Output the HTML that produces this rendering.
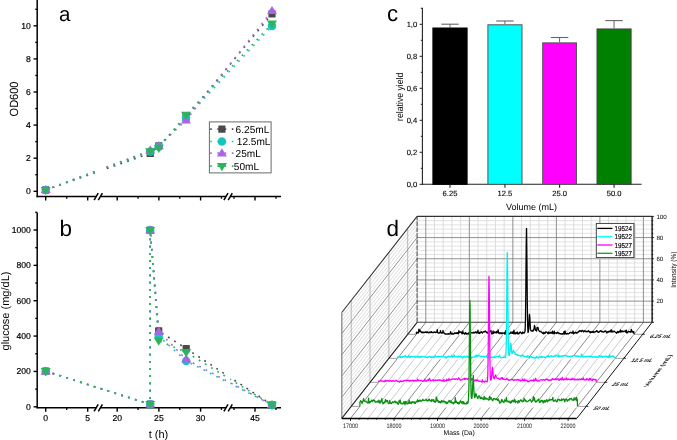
<!DOCTYPE html>
<html><head><meta charset="utf-8"><style>
html,body{margin:0;padding:0;background:#fff;}
svg{display:block;will-change:transform;}
text{font-family:"Liberation Sans", sans-serif;text-rendering:geometricPrecision;}
</style></head><body>
<svg width="677" height="440" viewBox="0 0 677 440">
<rect width="677" height="440" fill="#fff"/>
<defs><clipPath id="brka"><rect x="30" y="0" width="65.5" height="440"/><rect x="102.3" y="0" width="200" height="440"/></clipPath><clipPath id="brkb"><rect x="30" y="0" width="196" height="440"/><rect x="230.2" y="0" width="60" height="440"/></clipPath></defs>
<line x1="37.2" y1="0" x2="37.2" y2="197.2" stroke="#000" stroke-width="1.5" />
<line x1="33.6" y1="191.3" x2="37.2" y2="191.3" stroke="#000" stroke-width="1.4" />
<text x="30.9" y="194.2" font-size="8.6" text-anchor="end" fill="#000" stroke="#000" stroke-width="0.18">0</text>
<line x1="33.6" y1="158.2" x2="37.2" y2="158.2" stroke="#000" stroke-width="1.4" />
<text x="30.9" y="161.1" font-size="8.6" text-anchor="end" fill="#000" stroke="#000" stroke-width="0.18">2</text>
<line x1="33.6" y1="125.1" x2="37.2" y2="125.1" stroke="#000" stroke-width="1.4" />
<text x="30.9" y="128" font-size="8.6" text-anchor="end" fill="#000" stroke="#000" stroke-width="0.18">4</text>
<line x1="33.6" y1="92" x2="37.2" y2="92" stroke="#000" stroke-width="1.4" />
<text x="30.9" y="94.9" font-size="8.6" text-anchor="end" fill="#000" stroke="#000" stroke-width="0.18">6</text>
<line x1="33.6" y1="58.9" x2="37.2" y2="58.9" stroke="#000" stroke-width="1.4" />
<text x="30.9" y="61.8" font-size="8.6" text-anchor="end" fill="#000" stroke="#000" stroke-width="0.18">8</text>
<line x1="33.6" y1="25.8" x2="37.2" y2="25.8" stroke="#000" stroke-width="1.4" />
<text x="30.9" y="28.7" font-size="8.6" text-anchor="end" fill="#000" stroke="#000" stroke-width="0.18">10</text>
<line x1="35.2" y1="174.75" x2="37.2" y2="174.75" stroke="#000" stroke-width="1.3" />
<line x1="35.2" y1="141.65" x2="37.2" y2="141.65" stroke="#000" stroke-width="1.3" />
<line x1="35.2" y1="108.55" x2="37.2" y2="108.55" stroke="#000" stroke-width="1.3" />
<line x1="35.2" y1="75.45" x2="37.2" y2="75.45" stroke="#000" stroke-width="1.3" />
<line x1="35.2" y1="42.35" x2="37.2" y2="42.35" stroke="#000" stroke-width="1.3" />
<line x1="35.2" y1="9.25" x2="37.2" y2="9.25" stroke="#000" stroke-width="1.3" />
<line x1="36.5" y1="196.5" x2="96.2" y2="196.5" stroke="#000" stroke-width="1.5" />
<line x1="100.4" y1="196.5" x2="226" y2="196.5" stroke="#000" stroke-width="1.5" />
<line x1="230.2" y1="196.5" x2="281" y2="196.5" stroke="#000" stroke-width="1.5" />
<line x1="94.1" y1="200.2" x2="98.2" y2="193.2" stroke="#000" stroke-width="1.5" />
<line x1="98.3" y1="200.2" x2="102.4" y2="193.2" stroke="#000" stroke-width="1.5" />
<line x1="223.9" y1="200.2" x2="228" y2="193.2" stroke="#000" stroke-width="1.5" />
<line x1="228.2" y1="200.2" x2="232.3" y2="193.2" stroke="#000" stroke-width="1.5" />
<line x1="45.7" y1="196.5" x2="45.7" y2="200.5" stroke="#000" stroke-width="1.4" />
<line x1="87.7" y1="196.5" x2="87.7" y2="200.5" stroke="#000" stroke-width="1.4" />
<line x1="117.2" y1="196.5" x2="117.2" y2="200.5" stroke="#000" stroke-width="1.4" />
<line x1="158.9" y1="196.5" x2="158.9" y2="200.5" stroke="#000" stroke-width="1.4" />
<line x1="200.6" y1="196.5" x2="200.6" y2="200.5" stroke="#000" stroke-width="1.4" />
<line x1="255" y1="196.5" x2="255" y2="200.5" stroke="#000" stroke-width="1.4" />
<line x1="66.7" y1="196.5" x2="66.7" y2="198.7" stroke="#000" stroke-width="1.3" />
<line x1="138.05" y1="196.5" x2="138.05" y2="198.7" stroke="#000" stroke-width="1.3" />
<line x1="179.75" y1="196.5" x2="179.75" y2="198.7" stroke="#000" stroke-width="1.3" />
<line x1="221.45" y1="196.5" x2="221.45" y2="198.7" stroke="#000" stroke-width="1.3" />
<line x1="234" y1="196.5" x2="234" y2="198.7" stroke="#000" stroke-width="1.3" />
<line x1="276" y1="196.5" x2="276" y2="198.7" stroke="#000" stroke-width="1.3" />
<text transform="translate(17.6,99) scale(1.08,1) rotate(-90)" font-size="11" text-anchor="middle">OD600</text>
<text x="59.1" y="21.1" font-size="20.5" text-anchor="start" fill="#000" >a</text>
<polyline points="45.7,190 150.2,153.3 158.8,146 186,117.5 272,13.9" fill="none" stroke="#4a4a4a" stroke-width="1.6" stroke-dasharray="1.8 5.4" stroke-dashoffset="0.0" clip-path="url(#brka)"/>
<polyline points="45.7,190 150.2,151.5 158.8,146.5 186,117.8 272,26.1" fill="none" stroke="#12c6bd" stroke-width="1.6" stroke-dasharray="1.8 5.4" stroke-dashoffset="0.0" clip-path="url(#brka)"/>
<polyline points="45.7,189.9 150.2,150.5 158.8,146 186,120.3 272,10.9" fill="none" stroke="#a965e6" stroke-width="1.6" stroke-dasharray="1.8 5.4" stroke-dashoffset="0.0" clip-path="url(#brka)"/>
<polyline points="45.7,190.1 150.2,151.4 158.8,147.9 186,115 272,23.7" fill="none" stroke="#2db35e" stroke-width="1.6" stroke-dasharray="1.8 5.4" stroke-dashoffset="0.0" clip-path="url(#brka)"/>
<rect x="42.1" y="186.3" width="7.2" height="7.4" rx="0.6" fill="#4a4a4a"/>
<rect x="146.6" y="149.6" width="7.2" height="7.4" rx="0.6" fill="#4a4a4a"/>
<rect x="155.2" y="142.3" width="7.2" height="7.4" rx="0.6" fill="#4a4a4a"/>
<rect x="182.4" y="113.8" width="7.2" height="7.4" rx="0.6" fill="#4a4a4a"/>
<rect x="268.4" y="10.2" width="7.2" height="7.4" rx="0.6" fill="#4a4a4a"/>
<circle cx="45.7" cy="190" r="4.25" fill="#12c6bd"/>
<circle cx="150.2" cy="151.5" r="4.25" fill="#12c6bd"/>
<circle cx="158.8" cy="146.5" r="4.25" fill="#12c6bd"/>
<circle cx="186" cy="117.8" r="4.25" fill="#12c6bd"/>
<circle cx="272" cy="26.1" r="4.25" fill="#12c6bd"/>
<polygon points="45.7,184.9 50.7,193.1 40.7,193.1" fill="#a965e6" stroke="none" stroke-width="1" />
<polygon points="150.2,145.5 155.2,153.7 145.2,153.7" fill="#a965e6" stroke="none" stroke-width="1" />
<polygon points="158.8,141 163.8,149.2 153.8,149.2" fill="#a965e6" stroke="none" stroke-width="1" />
<polygon points="186,115.3 191,123.5 181,123.5" fill="#a965e6" stroke="none" stroke-width="1" />
<polygon points="272,5.9 277,14.1 267,14.1" fill="#a965e6" stroke="none" stroke-width="1" />
<polygon points="40.7,186.9 50.7,186.9 45.7,195.1" fill="#2db35e" stroke="none" stroke-width="1" />
<polygon points="145.2,148.2 155.2,148.2 150.2,156.4" fill="#2db35e" stroke="none" stroke-width="1" />
<polygon points="153.8,144.7 163.8,144.7 158.8,152.9" fill="#2db35e" stroke="none" stroke-width="1" />
<polygon points="181,111.8 191,111.8 186,120" fill="#2db35e" stroke="none" stroke-width="1" />
<polygon points="267,20.5 277,20.5 272,28.7" fill="#2db35e" stroke="none" stroke-width="1" />
<rect x="209.4" y="121.9" width="61.7" height="51" fill="#fff" stroke="#6a6a6a" stroke-width="1"/>
<line x1="210.2" y1="129.1" x2="233.4" y2="129.1" stroke="#4a4a4a" stroke-width="1.7" stroke-dasharray="1.6 5.6"/>
<rect x="218.3" y="125.4" width="7.2" height="7.4" rx="0.6" fill="#4a4a4a"/>
<text x="235.6" y="132.7" font-size="10.1" text-anchor="start" fill="#000" >6.25mL</text>
<line x1="210.2" y1="141.5" x2="233.4" y2="141.5" stroke="#12c6bd" stroke-width="1.7" stroke-dasharray="1.6 5.6"/>
<circle cx="221.9" cy="141.5" r="4.25" fill="#12c6bd"/>
<text x="236.8" y="145.1" font-size="10.1" text-anchor="start" fill="#000" >12.5mL</text>
<line x1="210.2" y1="153.2" x2="233.4" y2="153.2" stroke="#a965e6" stroke-width="1.7" stroke-dasharray="1.6 5.6"/>
<polygon points="221.9,148.2 226.9,156.4 216.9,156.4" fill="#a965e6" stroke="none" stroke-width="1" />
<text x="235.6" y="156.8" font-size="10.1" text-anchor="start" fill="#000" >25mL</text>
<line x1="210.2" y1="166.2" x2="233.4" y2="166.2" stroke="#2db35e" stroke-width="1.7" stroke-dasharray="1.6 5.6"/>
<polygon points="216.9,163 226.9,163 221.9,171.2" fill="#2db35e" stroke="none" stroke-width="1" />
<text x="233.8" y="169.8" font-size="10.1" text-anchor="start" fill="#000" >50mL</text>
<line x1="37.2" y1="212.5" x2="37.2" y2="408.3" stroke="#000" stroke-width="1.5" />
<line x1="33.6" y1="406.8" x2="37.2" y2="406.8" stroke="#000" stroke-width="1.4" />
<text x="30.9" y="409.7" font-size="8.6" text-anchor="end" fill="#000" stroke="#000" stroke-width="0.18">0</text>
<line x1="33.6" y1="371.44" x2="37.2" y2="371.44" stroke="#000" stroke-width="1.4" />
<text x="30.9" y="374.34" font-size="8.6" text-anchor="end" fill="#000" stroke="#000" stroke-width="0.18">200</text>
<line x1="33.6" y1="336.08" x2="37.2" y2="336.08" stroke="#000" stroke-width="1.4" />
<text x="30.9" y="338.98" font-size="8.6" text-anchor="end" fill="#000" stroke="#000" stroke-width="0.18">400</text>
<line x1="33.6" y1="300.72" x2="37.2" y2="300.72" stroke="#000" stroke-width="1.4" />
<text x="30.9" y="303.62" font-size="8.6" text-anchor="end" fill="#000" stroke="#000" stroke-width="0.18">600</text>
<line x1="33.6" y1="265.36" x2="37.2" y2="265.36" stroke="#000" stroke-width="1.4" />
<text x="30.9" y="268.26" font-size="8.6" text-anchor="end" fill="#000" stroke="#000" stroke-width="0.18">800</text>
<line x1="33.6" y1="230" x2="37.2" y2="230" stroke="#000" stroke-width="1.4" />
<text x="30.9" y="232.9" font-size="8.6" text-anchor="end" fill="#000" stroke="#000" stroke-width="0.18">1000</text>
<line x1="35.2" y1="389.12" x2="37.2" y2="389.12" stroke="#000" stroke-width="1.3" />
<line x1="35.2" y1="353.76" x2="37.2" y2="353.76" stroke="#000" stroke-width="1.3" />
<line x1="35.2" y1="318.4" x2="37.2" y2="318.4" stroke="#000" stroke-width="1.3" />
<line x1="35.2" y1="283.04" x2="37.2" y2="283.04" stroke="#000" stroke-width="1.3" />
<line x1="35.2" y1="247.68" x2="37.2" y2="247.68" stroke="#000" stroke-width="1.3" />
<line x1="35.2" y1="212.32" x2="37.2" y2="212.32" stroke="#000" stroke-width="1.3" />
<line x1="36.5" y1="407.7" x2="96.2" y2="407.7" stroke="#000" stroke-width="1.5" />
<line x1="100.4" y1="407.7" x2="226" y2="407.7" stroke="#000" stroke-width="1.5" />
<line x1="230.2" y1="407.7" x2="281" y2="407.7" stroke="#000" stroke-width="1.5" />
<line x1="94.1" y1="411.4" x2="98.2" y2="404.4" stroke="#000" stroke-width="1.5" />
<line x1="98.3" y1="411.4" x2="102.4" y2="404.4" stroke="#000" stroke-width="1.5" />
<line x1="223.9" y1="411.4" x2="228" y2="404.4" stroke="#000" stroke-width="1.5" />
<line x1="228.2" y1="411.4" x2="232.3" y2="404.4" stroke="#000" stroke-width="1.5" />
<line x1="45.7" y1="407.7" x2="45.7" y2="411.7" stroke="#000" stroke-width="1.4" />
<text x="45.7" y="421.2" font-size="8.6" text-anchor="middle" fill="#000" stroke="#000" stroke-width="0.18">0</text>
<line x1="87.7" y1="407.7" x2="87.7" y2="411.7" stroke="#000" stroke-width="1.4" />
<text x="87.7" y="421.2" font-size="8.6" text-anchor="middle" fill="#000" stroke="#000" stroke-width="0.18">5</text>
<line x1="117.2" y1="407.7" x2="117.2" y2="411.7" stroke="#000" stroke-width="1.4" />
<text x="117.2" y="421.2" font-size="8.6" text-anchor="middle" fill="#000" stroke="#000" stroke-width="0.18">20</text>
<line x1="158.9" y1="407.7" x2="158.9" y2="411.7" stroke="#000" stroke-width="1.4" />
<text x="158.9" y="421.2" font-size="8.6" text-anchor="middle" fill="#000" stroke="#000" stroke-width="0.18">25</text>
<line x1="200.6" y1="407.7" x2="200.6" y2="411.7" stroke="#000" stroke-width="1.4" />
<text x="200.6" y="421.2" font-size="8.6" text-anchor="middle" fill="#000" stroke="#000" stroke-width="0.18">30</text>
<line x1="255" y1="407.7" x2="255" y2="411.7" stroke="#000" stroke-width="1.4" />
<text x="255" y="421.2" font-size="8.6" text-anchor="middle" fill="#000" stroke="#000" stroke-width="0.18">45</text>
<line x1="66.7" y1="407.7" x2="66.7" y2="409.9" stroke="#000" stroke-width="1.3" />
<line x1="138.05" y1="407.7" x2="138.05" y2="409.9" stroke="#000" stroke-width="1.3" />
<line x1="179.75" y1="407.7" x2="179.75" y2="409.9" stroke="#000" stroke-width="1.3" />
<line x1="221.45" y1="407.7" x2="221.45" y2="409.9" stroke="#000" stroke-width="1.3" />
<line x1="234" y1="407.7" x2="234" y2="409.9" stroke="#000" stroke-width="1.3" />
<line x1="276" y1="407.7" x2="276" y2="409.9" stroke="#000" stroke-width="1.3" />
<text transform="translate(8.7,311) rotate(-90)" font-size="11" text-anchor="middle">glucose (mg/dL)</text>
<text x="158.5" y="437.8" font-size="11" text-anchor="middle" fill="#000" >t (h)</text>
<text x="59.4" y="235.8" font-size="22.5" text-anchor="start" fill="#000" >b</text>
<polyline points="45.7,371.2 150.2,404.3 150.2,230.2 158.7,331 186.2,348.6 272,404.9" fill="none" stroke="#4a4a4a" stroke-width="1.6" stroke-dasharray="1.8 5.4" stroke-dashoffset="0.0" clip-path="url(#brkb)"/>
<polyline points="45.7,371.2 150.2,404.3 150.2,230.2 158.7,336 186.2,361 272,404.9" fill="none" stroke="#12c6bd" stroke-width="1.6" stroke-dasharray="1.8 5.4" stroke-dashoffset="0.0" clip-path="url(#brkb)"/>
<polyline points="45.7,371.2 150.2,404.3 150.2,230.2 158.7,331.5 186.2,359.3 272,404.9" fill="none" stroke="#a965e6" stroke-width="1.6" stroke-dasharray="1.8 5.4" stroke-dashoffset="0.0" clip-path="url(#brkb)"/>
<polyline points="45.7,371.2 150.2,404.3 150.2,230.2 158.7,340.7 186.2,352.3 272,404.9" fill="none" stroke="#2db35e" stroke-width="1.6" stroke-dasharray="1.8 5.4" stroke-dashoffset="0.0" clip-path="url(#brkb)"/>
<rect x="42.1" y="367.5" width="7.2" height="7.4" rx="0.6" fill="#4a4a4a"/>
<rect x="146.6" y="400.6" width="7.2" height="7.4" rx="0.6" fill="#4a4a4a"/>
<rect x="146.6" y="226.5" width="7.2" height="7.4" rx="0.6" fill="#4a4a4a"/>
<rect x="155.1" y="327.3" width="7.2" height="7.4" rx="0.6" fill="#4a4a4a"/>
<rect x="182.6" y="344.9" width="7.2" height="7.4" rx="0.6" fill="#4a4a4a"/>
<rect x="268.4" y="401.2" width="7.2" height="7.4" rx="0.6" fill="#4a4a4a"/>
<circle cx="45.7" cy="371.2" r="4.25" fill="#12c6bd"/>
<circle cx="150.2" cy="404.3" r="4.25" fill="#12c6bd"/>
<circle cx="150.2" cy="230.2" r="4.25" fill="#12c6bd"/>
<circle cx="158.7" cy="336" r="4.25" fill="#12c6bd"/>
<circle cx="186.2" cy="361" r="4.25" fill="#12c6bd"/>
<circle cx="272" cy="404.9" r="4.25" fill="#12c6bd"/>
<polygon points="45.7,366.2 50.7,374.4 40.7,374.4" fill="#a965e6" stroke="none" stroke-width="1" />
<polygon points="150.2,399.3 155.2,407.5 145.2,407.5" fill="#a965e6" stroke="none" stroke-width="1" />
<polygon points="150.2,225.2 155.2,233.4 145.2,233.4" fill="#a965e6" stroke="none" stroke-width="1" />
<polygon points="158.7,326.5 163.7,334.7 153.7,334.7" fill="#a965e6" stroke="none" stroke-width="1" />
<polygon points="186.2,354.3 191.2,362.5 181.2,362.5" fill="#a965e6" stroke="none" stroke-width="1" />
<polygon points="272,399.9 277,408.1 267,408.1" fill="#a965e6" stroke="none" stroke-width="1" />
<polygon points="40.7,368 50.7,368 45.7,376.2" fill="#2db35e" stroke="none" stroke-width="1" />
<polygon points="145.2,401.1 155.2,401.1 150.2,409.3" fill="#2db35e" stroke="none" stroke-width="1" />
<polygon points="145.2,227 155.2,227 150.2,235.2" fill="#2db35e" stroke="none" stroke-width="1" />
<polygon points="153.7,337.5 163.7,337.5 158.7,345.7" fill="#2db35e" stroke="none" stroke-width="1" />
<polygon points="181.2,349.1 191.2,349.1 186.2,357.3" fill="#2db35e" stroke="none" stroke-width="1" />
<polygon points="267,401.7 277,401.7 272,409.9" fill="#2db35e" stroke="none" stroke-width="1" />
<line x1="422.4" y1="7.8" x2="422.4" y2="184.8" stroke="#222" stroke-width="1.1" />
<line x1="421.9" y1="184.3" x2="641.6" y2="184.3" stroke="#222" stroke-width="1.1" />
<line x1="419.6" y1="184.3" x2="422.4" y2="184.3" stroke="#222" stroke-width="1" />
<text x="417.2" y="187.02" font-size="7.6" text-anchor="end" fill="#000" stroke="#000" stroke-width="0.12">0,0</text>
<line x1="419.6" y1="152.3" x2="422.4" y2="152.3" stroke="#222" stroke-width="1" />
<text x="417.2" y="155.02" font-size="7.6" text-anchor="end" fill="#000" stroke="#000" stroke-width="0.12">0,2</text>
<line x1="419.6" y1="120.3" x2="422.4" y2="120.3" stroke="#222" stroke-width="1" />
<text x="417.2" y="123.02" font-size="7.6" text-anchor="end" fill="#000" stroke="#000" stroke-width="0.12">0,4</text>
<line x1="419.6" y1="88.3" x2="422.4" y2="88.3" stroke="#222" stroke-width="1" />
<text x="417.2" y="91.02" font-size="7.6" text-anchor="end" fill="#000" stroke="#000" stroke-width="0.12">0,6</text>
<line x1="419.6" y1="56.3" x2="422.4" y2="56.3" stroke="#222" stroke-width="1" />
<text x="417.2" y="59.02" font-size="7.6" text-anchor="end" fill="#000" stroke="#000" stroke-width="0.12">0,8</text>
<line x1="419.6" y1="24.3" x2="422.4" y2="24.3" stroke="#222" stroke-width="1" />
<text x="417.2" y="27.02" font-size="7.6" text-anchor="end" fill="#000" stroke="#000" stroke-width="0.12">1,0</text>
<line x1="420.8" y1="168.3" x2="422.4" y2="168.3" stroke="#222" stroke-width="1" />
<line x1="420.8" y1="136.3" x2="422.4" y2="136.3" stroke="#222" stroke-width="1" />
<line x1="420.8" y1="104.3" x2="422.4" y2="104.3" stroke="#222" stroke-width="1" />
<line x1="420.8" y1="72.3" x2="422.4" y2="72.3" stroke="#222" stroke-width="1" />
<line x1="420.8" y1="40.3" x2="422.4" y2="40.3" stroke="#222" stroke-width="1" />
<line x1="420.8" y1="8.3" x2="422.4" y2="8.3" stroke="#222" stroke-width="1" />
<line x1="450" y1="24.2" x2="450" y2="27.5" stroke="#666" stroke-width="1" />
<line x1="441.3" y1="24.2" x2="458.7" y2="24.2" stroke="#666" stroke-width="1.1" />
<rect x="432.9" y="28" width="34.2" height="156.3" fill="#000" stroke="#000" stroke-width="1"/>
<line x1="450" y1="184.3" x2="450" y2="187.8" stroke="#222" stroke-width="1.1" />
<text x="450" y="196.12" font-size="7.6" text-anchor="middle" fill="#000" stroke="#000" stroke-width="0.12">6.25</text>
<line x1="504.95" y1="21" x2="504.95" y2="24.3" stroke="#666" stroke-width="1" />
<line x1="496.25" y1="21" x2="513.65" y2="21" stroke="#666" stroke-width="1.1" />
<rect x="487.9" y="24.8" width="34.1" height="159.5" fill="#00ffff" stroke="#555" stroke-width="1"/>
<line x1="504.95" y1="184.3" x2="504.95" y2="187.8" stroke="#222" stroke-width="1.1" />
<text x="504.95" y="196.12" font-size="7.6" text-anchor="middle" fill="#000" stroke="#000" stroke-width="0.12">12.5</text>
<line x1="559.6" y1="37.5" x2="559.6" y2="42.38" stroke="#666" stroke-width="1" />
<line x1="550.9" y1="37.5" x2="568.3" y2="37.5" stroke="#666" stroke-width="1.1" />
<rect x="542.7" y="42.88" width="33.8" height="141.42" fill="#ff00ff" stroke="#555" stroke-width="1"/>
<line x1="559.6" y1="184.3" x2="559.6" y2="187.8" stroke="#222" stroke-width="1.1" />
<text x="559.6" y="196.12" font-size="7.6" text-anchor="middle" fill="#000" stroke="#000" stroke-width="0.12">25.0</text>
<line x1="614.05" y1="20.6" x2="614.05" y2="28.46" stroke="#666" stroke-width="1" />
<line x1="605.35" y1="20.6" x2="622.75" y2="20.6" stroke="#666" stroke-width="1.1" />
<rect x="597" y="28.96" width="34.1" height="155.34" fill="#008000" stroke="#444" stroke-width="1"/>
<line x1="614.05" y1="184.3" x2="614.05" y2="187.8" stroke="#222" stroke-width="1.1" />
<text x="614.05" y="196.12" font-size="7.6" text-anchor="middle" fill="#000" stroke="#000" stroke-width="0.12">50.0</text>
<text x="531.5" y="210.2" font-size="9" text-anchor="middle" fill="#000" >Volume (mL)</text>
<text transform="translate(403.4,96.8) scale(1.12,1) rotate(-90)" font-size="8.7" text-anchor="middle" fill="#000">relative yield</text>
<text x="386.9" y="21.4" font-size="22.3" text-anchor="start" fill="#000" >c</text>
<line x1="417.1" y1="318.06" x2="652.1" y2="318.06" stroke="#e0e0e0" stroke-width="0.9" />
<line x1="417.1" y1="313.83" x2="652.1" y2="313.83" stroke="#e0e0e0" stroke-width="0.9" />
<line x1="417.1" y1="309.59" x2="652.1" y2="309.59" stroke="#e0e0e0" stroke-width="0.9" />
<line x1="417.1" y1="305.36" x2="652.1" y2="305.36" stroke="#e0e0e0" stroke-width="0.9" />
<line x1="417.1" y1="296.88" x2="652.1" y2="296.88" stroke="#e0e0e0" stroke-width="0.9" />
<line x1="417.1" y1="292.65" x2="652.1" y2="292.65" stroke="#e0e0e0" stroke-width="0.9" />
<line x1="417.1" y1="288.41" x2="652.1" y2="288.41" stroke="#e0e0e0" stroke-width="0.9" />
<line x1="417.1" y1="284.18" x2="652.1" y2="284.18" stroke="#e0e0e0" stroke-width="0.9" />
<line x1="417.1" y1="275.7" x2="652.1" y2="275.7" stroke="#e0e0e0" stroke-width="0.9" />
<line x1="417.1" y1="271.47" x2="652.1" y2="271.47" stroke="#e0e0e0" stroke-width="0.9" />
<line x1="417.1" y1="267.23" x2="652.1" y2="267.23" stroke="#e0e0e0" stroke-width="0.9" />
<line x1="417.1" y1="263" x2="652.1" y2="263" stroke="#e0e0e0" stroke-width="0.9" />
<line x1="417.1" y1="254.52" x2="652.1" y2="254.52" stroke="#e0e0e0" stroke-width="0.9" />
<line x1="417.1" y1="250.29" x2="652.1" y2="250.29" stroke="#e0e0e0" stroke-width="0.9" />
<line x1="417.1" y1="246.05" x2="652.1" y2="246.05" stroke="#e0e0e0" stroke-width="0.9" />
<line x1="417.1" y1="241.82" x2="652.1" y2="241.82" stroke="#e0e0e0" stroke-width="0.9" />
<line x1="417.1" y1="233.34" x2="652.1" y2="233.34" stroke="#e0e0e0" stroke-width="0.9" />
<line x1="417.1" y1="229.11" x2="652.1" y2="229.11" stroke="#e0e0e0" stroke-width="0.9" />
<line x1="417.1" y1="224.87" x2="652.1" y2="224.87" stroke="#e0e0e0" stroke-width="0.9" />
<line x1="417.1" y1="220.64" x2="652.1" y2="220.64" stroke="#e0e0e0" stroke-width="0.9" />
<line x1="434.5" y1="216.4" x2="434.5" y2="322.3" stroke="#d9d9d9" stroke-width="0.9" />
<line x1="443.21" y1="216.4" x2="443.21" y2="322.3" stroke="#d9d9d9" stroke-width="0.9" />
<line x1="451.91" y1="216.4" x2="451.91" y2="322.3" stroke="#d9d9d9" stroke-width="0.9" />
<line x1="460.62" y1="216.4" x2="460.62" y2="322.3" stroke="#d9d9d9" stroke-width="0.9" />
<line x1="478.02" y1="216.4" x2="478.02" y2="322.3" stroke="#d9d9d9" stroke-width="0.9" />
<line x1="486.73" y1="216.4" x2="486.73" y2="322.3" stroke="#d9d9d9" stroke-width="0.9" />
<line x1="495.43" y1="216.4" x2="495.43" y2="322.3" stroke="#d9d9d9" stroke-width="0.9" />
<line x1="504.14" y1="216.4" x2="504.14" y2="322.3" stroke="#d9d9d9" stroke-width="0.9" />
<line x1="521.54" y1="216.4" x2="521.54" y2="322.3" stroke="#d9d9d9" stroke-width="0.9" />
<line x1="530.25" y1="216.4" x2="530.25" y2="322.3" stroke="#d9d9d9" stroke-width="0.9" />
<line x1="538.95" y1="216.4" x2="538.95" y2="322.3" stroke="#d9d9d9" stroke-width="0.9" />
<line x1="547.66" y1="216.4" x2="547.66" y2="322.3" stroke="#d9d9d9" stroke-width="0.9" />
<line x1="565.06" y1="216.4" x2="565.06" y2="322.3" stroke="#d9d9d9" stroke-width="0.9" />
<line x1="573.77" y1="216.4" x2="573.77" y2="322.3" stroke="#d9d9d9" stroke-width="0.9" />
<line x1="582.47" y1="216.4" x2="582.47" y2="322.3" stroke="#d9d9d9" stroke-width="0.9" />
<line x1="591.18" y1="216.4" x2="591.18" y2="322.3" stroke="#d9d9d9" stroke-width="0.9" />
<line x1="608.58" y1="216.4" x2="608.58" y2="322.3" stroke="#d9d9d9" stroke-width="0.9" />
<line x1="617.29" y1="216.4" x2="617.29" y2="322.3" stroke="#d9d9d9" stroke-width="0.9" />
<line x1="625.99" y1="216.4" x2="625.99" y2="322.3" stroke="#d9d9d9" stroke-width="0.9" />
<line x1="634.7" y1="216.4" x2="634.7" y2="322.3" stroke="#d9d9d9" stroke-width="0.9" />
<line x1="417.1" y1="301.12" x2="652.1" y2="301.12" stroke="#858585" stroke-width="0.9" />
<line x1="417.1" y1="279.94" x2="652.1" y2="279.94" stroke="#858585" stroke-width="0.9" />
<line x1="417.1" y1="258.76" x2="652.1" y2="258.76" stroke="#858585" stroke-width="0.9" />
<line x1="417.1" y1="237.58" x2="652.1" y2="237.58" stroke="#858585" stroke-width="0.9" />
<line x1="425.8" y1="216.4" x2="425.8" y2="322.3" stroke="#858585" stroke-width="0.9" />
<line x1="469.32" y1="216.4" x2="469.32" y2="322.3" stroke="#858585" stroke-width="0.9" />
<line x1="512.84" y1="216.4" x2="512.84" y2="322.3" stroke="#858585" stroke-width="0.9" />
<line x1="556.36" y1="216.4" x2="556.36" y2="322.3" stroke="#858585" stroke-width="0.9" />
<line x1="599.88" y1="216.4" x2="599.88" y2="322.3" stroke="#858585" stroke-width="0.9" />
<line x1="643.4" y1="216.4" x2="643.4" y2="322.3" stroke="#858585" stroke-width="0.9" />
<line x1="341.8" y1="414.16" x2="417.1" y2="318.06" stroke="#d9d9d9" stroke-width="0.9" />
<line x1="341.8" y1="409.93" x2="417.1" y2="313.83" stroke="#d9d9d9" stroke-width="0.9" />
<line x1="341.8" y1="405.69" x2="417.1" y2="309.59" stroke="#d9d9d9" stroke-width="0.9" />
<line x1="341.8" y1="401.46" x2="417.1" y2="305.36" stroke="#d9d9d9" stroke-width="0.9" />
<line x1="341.8" y1="392.98" x2="417.1" y2="296.88" stroke="#d9d9d9" stroke-width="0.9" />
<line x1="341.8" y1="388.75" x2="417.1" y2="292.65" stroke="#d9d9d9" stroke-width="0.9" />
<line x1="341.8" y1="384.51" x2="417.1" y2="288.41" stroke="#d9d9d9" stroke-width="0.9" />
<line x1="341.8" y1="380.28" x2="417.1" y2="284.18" stroke="#d9d9d9" stroke-width="0.9" />
<line x1="341.8" y1="371.8" x2="417.1" y2="275.7" stroke="#d9d9d9" stroke-width="0.9" />
<line x1="341.8" y1="367.57" x2="417.1" y2="271.47" stroke="#d9d9d9" stroke-width="0.9" />
<line x1="341.8" y1="363.33" x2="417.1" y2="267.23" stroke="#d9d9d9" stroke-width="0.9" />
<line x1="341.8" y1="359.1" x2="417.1" y2="263" stroke="#d9d9d9" stroke-width="0.9" />
<line x1="341.8" y1="350.62" x2="417.1" y2="254.52" stroke="#d9d9d9" stroke-width="0.9" />
<line x1="341.8" y1="346.39" x2="417.1" y2="250.29" stroke="#d9d9d9" stroke-width="0.9" />
<line x1="341.8" y1="342.15" x2="417.1" y2="246.05" stroke="#d9d9d9" stroke-width="0.9" />
<line x1="341.8" y1="337.92" x2="417.1" y2="241.82" stroke="#d9d9d9" stroke-width="0.9" />
<line x1="341.8" y1="329.44" x2="417.1" y2="233.34" stroke="#d9d9d9" stroke-width="0.9" />
<line x1="341.8" y1="325.21" x2="417.1" y2="229.11" stroke="#d9d9d9" stroke-width="0.9" />
<line x1="341.8" y1="320.97" x2="417.1" y2="224.87" stroke="#d9d9d9" stroke-width="0.9" />
<line x1="341.8" y1="316.74" x2="417.1" y2="220.64" stroke="#d9d9d9" stroke-width="0.9" />
<line x1="351.21" y1="406.39" x2="351.21" y2="300.49" stroke="#b0b0b0" stroke-width="0.9" />
<line x1="370.03" y1="382.36" x2="370.03" y2="276.46" stroke="#b0b0b0" stroke-width="0.9" />
<line x1="388.86" y1="358.34" x2="388.86" y2="252.44" stroke="#b0b0b0" stroke-width="0.9" />
<line x1="407.68" y1="334.31" x2="407.68" y2="228.41" stroke="#b0b0b0" stroke-width="0.9" />
<line x1="341.8" y1="397.22" x2="417.1" y2="301.12" stroke="#858585" stroke-width="0.9" />
<line x1="341.8" y1="376.04" x2="417.1" y2="279.94" stroke="#858585" stroke-width="0.9" />
<line x1="341.8" y1="354.86" x2="417.1" y2="258.76" stroke="#858585" stroke-width="0.9" />
<line x1="341.8" y1="333.68" x2="417.1" y2="237.58" stroke="#858585" stroke-width="0.9" />
<line x1="359.2" y1="418.4" x2="434.5" y2="322.3" stroke="#c4c4c4" stroke-width="0.9" />
<line x1="367.91" y1="418.4" x2="443.21" y2="322.3" stroke="#c4c4c4" stroke-width="0.9" />
<line x1="376.61" y1="418.4" x2="451.91" y2="322.3" stroke="#c4c4c4" stroke-width="0.9" />
<line x1="385.32" y1="418.4" x2="460.62" y2="322.3" stroke="#c4c4c4" stroke-width="0.9" />
<line x1="402.72" y1="418.4" x2="478.02" y2="322.3" stroke="#c4c4c4" stroke-width="0.9" />
<line x1="411.43" y1="418.4" x2="486.73" y2="322.3" stroke="#c4c4c4" stroke-width="0.9" />
<line x1="420.13" y1="418.4" x2="495.43" y2="322.3" stroke="#c4c4c4" stroke-width="0.9" />
<line x1="428.84" y1="418.4" x2="504.14" y2="322.3" stroke="#c4c4c4" stroke-width="0.9" />
<line x1="446.24" y1="418.4" x2="521.54" y2="322.3" stroke="#c4c4c4" stroke-width="0.9" />
<line x1="454.95" y1="418.4" x2="530.25" y2="322.3" stroke="#c4c4c4" stroke-width="0.9" />
<line x1="463.65" y1="418.4" x2="538.95" y2="322.3" stroke="#c4c4c4" stroke-width="0.9" />
<line x1="472.36" y1="418.4" x2="547.66" y2="322.3" stroke="#c4c4c4" stroke-width="0.9" />
<line x1="489.76" y1="418.4" x2="565.06" y2="322.3" stroke="#c4c4c4" stroke-width="0.9" />
<line x1="498.47" y1="418.4" x2="573.77" y2="322.3" stroke="#c4c4c4" stroke-width="0.9" />
<line x1="507.17" y1="418.4" x2="582.47" y2="322.3" stroke="#c4c4c4" stroke-width="0.9" />
<line x1="515.88" y1="418.4" x2="591.18" y2="322.3" stroke="#c4c4c4" stroke-width="0.9" />
<line x1="533.28" y1="418.4" x2="608.58" y2="322.3" stroke="#c4c4c4" stroke-width="0.9" />
<line x1="541.99" y1="418.4" x2="617.29" y2="322.3" stroke="#c4c4c4" stroke-width="0.9" />
<line x1="550.69" y1="418.4" x2="625.99" y2="322.3" stroke="#c4c4c4" stroke-width="0.9" />
<line x1="559.4" y1="418.4" x2="634.7" y2="322.3" stroke="#c4c4c4" stroke-width="0.9" />
<line x1="351.21" y1="406.39" x2="586.22" y2="406.39" stroke="#9a9a9a" stroke-width="0.9" />
<line x1="370.03" y1="382.36" x2="605.04" y2="382.36" stroke="#9a9a9a" stroke-width="0.9" />
<line x1="388.86" y1="358.34" x2="623.87" y2="358.34" stroke="#9a9a9a" stroke-width="0.9" />
<line x1="407.68" y1="334.31" x2="642.69" y2="334.31" stroke="#9a9a9a" stroke-width="0.9" />
<line x1="350.5" y1="418.4" x2="425.8" y2="322.3" stroke="#7a7a7a" stroke-width="0.9" />
<line x1="394.02" y1="418.4" x2="469.32" y2="322.3" stroke="#7a7a7a" stroke-width="0.9" />
<line x1="437.54" y1="418.4" x2="512.84" y2="322.3" stroke="#7a7a7a" stroke-width="0.9" />
<line x1="481.06" y1="418.4" x2="556.36" y2="322.3" stroke="#7a7a7a" stroke-width="0.9" />
<line x1="524.58" y1="418.4" x2="599.88" y2="322.3" stroke="#7a7a7a" stroke-width="0.9" />
<line x1="568.1" y1="418.4" x2="643.4" y2="322.3" stroke="#7a7a7a" stroke-width="0.9" />
<line x1="417.1" y1="216.4" x2="652.1" y2="216.4" stroke="#333" stroke-width="1.1" />
<line x1="341.8" y1="312.5" x2="417.1" y2="216.4" stroke="#333" stroke-width="1.1" />
<line x1="341.8" y1="418.4" x2="341.8" y2="312.5" stroke="#888" stroke-width="1.3" />
<line x1="417.1" y1="322.3" x2="417.1" y2="216.4" stroke="#3a3a3a" stroke-width="1.0" stroke-dasharray="5 1"/>
<line x1="417.1" y1="322.3" x2="652.1" y2="322.3" stroke="#444" stroke-width="1.1" />
<line x1="341.8" y1="418.4" x2="417.1" y2="322.3" stroke="#222" stroke-width="1.1" />
<line x1="341.8" y1="418.5" x2="576.8" y2="418.5" stroke="#000" stroke-width="1.7" />
<line x1="576.8" y1="418.4" x2="652.1" y2="322.3" stroke="#111" stroke-width="1.0" />
<line x1="652.1" y1="322.3" x2="652.1" y2="216.4" stroke="#000" stroke-width="1.3" />
<line x1="350.5" y1="418.4" x2="350.5" y2="420.8" stroke="#000" stroke-width="0.9" />
<text x="350.5" y="428" font-size="6.4" text-anchor="middle" fill="#222" transform="translate(350.5,0) scale(0.85,1) translate(-350.5,0)" >17000</text>
<line x1="359.2" y1="418.4" x2="359.2" y2="419.8" stroke="#000" stroke-width="0.8" />
<line x1="367.91" y1="418.4" x2="367.91" y2="419.8" stroke="#000" stroke-width="0.8" />
<line x1="376.61" y1="418.4" x2="376.61" y2="419.8" stroke="#000" stroke-width="0.8" />
<line x1="385.32" y1="418.4" x2="385.32" y2="419.8" stroke="#000" stroke-width="0.8" />
<line x1="394.02" y1="418.4" x2="394.02" y2="420.8" stroke="#000" stroke-width="0.9" />
<text x="394.02" y="428" font-size="6.4" text-anchor="middle" fill="#222" transform="translate(394.02,0) scale(0.85,1) translate(-394.02,0)" >18000</text>
<line x1="402.72" y1="418.4" x2="402.72" y2="419.8" stroke="#000" stroke-width="0.8" />
<line x1="411.43" y1="418.4" x2="411.43" y2="419.8" stroke="#000" stroke-width="0.8" />
<line x1="420.13" y1="418.4" x2="420.13" y2="419.8" stroke="#000" stroke-width="0.8" />
<line x1="428.84" y1="418.4" x2="428.84" y2="419.8" stroke="#000" stroke-width="0.8" />
<line x1="437.54" y1="418.4" x2="437.54" y2="420.8" stroke="#000" stroke-width="0.9" />
<text x="437.54" y="428" font-size="6.4" text-anchor="middle" fill="#222" transform="translate(437.54,0) scale(0.85,1) translate(-437.54,0)" >19000</text>
<line x1="446.24" y1="418.4" x2="446.24" y2="419.8" stroke="#000" stroke-width="0.8" />
<line x1="454.95" y1="418.4" x2="454.95" y2="419.8" stroke="#000" stroke-width="0.8" />
<line x1="463.65" y1="418.4" x2="463.65" y2="419.8" stroke="#000" stroke-width="0.8" />
<line x1="472.36" y1="418.4" x2="472.36" y2="419.8" stroke="#000" stroke-width="0.8" />
<line x1="481.06" y1="418.4" x2="481.06" y2="420.8" stroke="#000" stroke-width="0.9" />
<text x="481.06" y="428" font-size="6.4" text-anchor="middle" fill="#222" transform="translate(481.06,0) scale(0.85,1) translate(-481.06,0)" >20000</text>
<line x1="489.76" y1="418.4" x2="489.76" y2="419.8" stroke="#000" stroke-width="0.8" />
<line x1="498.47" y1="418.4" x2="498.47" y2="419.8" stroke="#000" stroke-width="0.8" />
<line x1="507.17" y1="418.4" x2="507.17" y2="419.8" stroke="#000" stroke-width="0.8" />
<line x1="515.88" y1="418.4" x2="515.88" y2="419.8" stroke="#000" stroke-width="0.8" />
<line x1="524.58" y1="418.4" x2="524.58" y2="420.8" stroke="#000" stroke-width="0.9" />
<text x="524.58" y="428" font-size="6.4" text-anchor="middle" fill="#222" transform="translate(524.58,0) scale(0.85,1) translate(-524.58,0)" >21000</text>
<line x1="533.28" y1="418.4" x2="533.28" y2="419.8" stroke="#000" stroke-width="0.8" />
<line x1="541.99" y1="418.4" x2="541.99" y2="419.8" stroke="#000" stroke-width="0.8" />
<line x1="550.69" y1="418.4" x2="550.69" y2="419.8" stroke="#000" stroke-width="0.8" />
<line x1="559.4" y1="418.4" x2="559.4" y2="419.8" stroke="#000" stroke-width="0.8" />
<line x1="568.1" y1="418.4" x2="568.1" y2="420.8" stroke="#000" stroke-width="0.9" />
<text x="568.1" y="428" font-size="6.4" text-anchor="middle" fill="#222" transform="translate(568.1,0) scale(0.85,1) translate(-568.1,0)" >22000</text>
<text x="459.2" y="435.2" font-size="6.8" text-anchor="middle" fill="#000">Mass (Da)</text>
<line x1="652.1" y1="322.3" x2="653.9" y2="322.3" stroke="#000" stroke-width="0.9" />
<line x1="652.1" y1="318.06" x2="653.3" y2="318.06" stroke="#000" stroke-width="0.8" />
<line x1="652.1" y1="313.83" x2="653.3" y2="313.83" stroke="#000" stroke-width="0.8" />
<line x1="652.1" y1="309.59" x2="653.3" y2="309.59" stroke="#000" stroke-width="0.8" />
<line x1="652.1" y1="305.36" x2="653.3" y2="305.36" stroke="#000" stroke-width="0.8" />
<line x1="652.1" y1="301.12" x2="653.9" y2="301.12" stroke="#000" stroke-width="0.9" />
<text x="656.4" y="303.34" font-size="6.2" text-anchor="start" fill="#000" >20</text>
<line x1="652.1" y1="296.88" x2="653.3" y2="296.88" stroke="#000" stroke-width="0.8" />
<line x1="652.1" y1="292.65" x2="653.3" y2="292.65" stroke="#000" stroke-width="0.8" />
<line x1="652.1" y1="288.41" x2="653.3" y2="288.41" stroke="#000" stroke-width="0.8" />
<line x1="652.1" y1="284.18" x2="653.3" y2="284.18" stroke="#000" stroke-width="0.8" />
<line x1="652.1" y1="279.94" x2="653.9" y2="279.94" stroke="#000" stroke-width="0.9" />
<text x="656.4" y="282.16" font-size="6.2" text-anchor="start" fill="#000" >40</text>
<line x1="652.1" y1="275.7" x2="653.3" y2="275.7" stroke="#000" stroke-width="0.8" />
<line x1="652.1" y1="271.47" x2="653.3" y2="271.47" stroke="#000" stroke-width="0.8" />
<line x1="652.1" y1="267.23" x2="653.3" y2="267.23" stroke="#000" stroke-width="0.8" />
<line x1="652.1" y1="263" x2="653.3" y2="263" stroke="#000" stroke-width="0.8" />
<line x1="652.1" y1="258.76" x2="653.9" y2="258.76" stroke="#000" stroke-width="0.9" />
<text x="656.4" y="260.98" font-size="6.2" text-anchor="start" fill="#000" >60</text>
<line x1="652.1" y1="254.52" x2="653.3" y2="254.52" stroke="#000" stroke-width="0.8" />
<line x1="652.1" y1="250.29" x2="653.3" y2="250.29" stroke="#000" stroke-width="0.8" />
<line x1="652.1" y1="246.05" x2="653.3" y2="246.05" stroke="#000" stroke-width="0.8" />
<line x1="652.1" y1="241.82" x2="653.3" y2="241.82" stroke="#000" stroke-width="0.8" />
<line x1="652.1" y1="237.58" x2="653.9" y2="237.58" stroke="#000" stroke-width="0.9" />
<text x="656.4" y="239.8" font-size="6.2" text-anchor="start" fill="#000" >80</text>
<line x1="652.1" y1="233.34" x2="653.3" y2="233.34" stroke="#000" stroke-width="0.8" />
<line x1="652.1" y1="229.11" x2="653.3" y2="229.11" stroke="#000" stroke-width="0.8" />
<line x1="652.1" y1="224.87" x2="653.3" y2="224.87" stroke="#000" stroke-width="0.8" />
<line x1="652.1" y1="220.64" x2="653.3" y2="220.64" stroke="#000" stroke-width="0.8" />
<line x1="652.1" y1="216.4" x2="653.9" y2="216.4" stroke="#000" stroke-width="0.9" />
<text x="656.4" y="218.62" font-size="6.2" text-anchor="start" fill="#000" >100</text>
<text transform="translate(675.9,269.7) scale(1.12,1) rotate(-90)" font-size="6.5" text-anchor="middle" fill="#000">Intensity (%)</text>
<line x1="585.22" y1="406.39" x2="588.42" y2="406.39" stroke="#333" stroke-width="1" />
<text font-size="7" font-weight="bold" fill="#111" transform="matrix(0.82,0,-0.59,0.72,592.52,409.99)">50 mL</text>
<line x1="604.04" y1="382.36" x2="607.24" y2="382.36" stroke="#333" stroke-width="1" />
<text font-size="7" font-weight="bold" fill="#111" transform="matrix(0.82,0,-0.59,0.72,611.34,385.96)">25 mL</text>
<line x1="622.87" y1="358.34" x2="626.07" y2="358.34" stroke="#333" stroke-width="1" />
<text font-size="7" font-weight="bold" fill="#111" transform="matrix(0.82,0,-0.59,0.72,630.17,361.94)">12.5 mL</text>
<line x1="641.69" y1="334.31" x2="644.89" y2="334.31" stroke="#333" stroke-width="1" />
<text font-size="7" font-weight="bold" fill="#111" transform="matrix(0.82,0,-0.59,0.72,648.99,337.91)">6.25 mL</text>
<text transform="matrix(0.6,-0.77,0.85,0,647.6,387.0)" font-size="7" font-weight="bold" fill="#111">Volume (mL)</text>
<text x="386.5" y="236" font-size="22.5" text-anchor="start" fill="#000" >d</text>
<polygon points="416.39,335.31 416.39,332.55 416.75,332.15 417.11,332.71 417.47,332.47 417.83,332.87 418.19,333.15 418.55,332.01 418.91,329.05 419.27,331.14 419.63,331.69 419.99,330.06 420.35,331.6 420.71,331.32 421.07,331.58 421.43,332.5 421.79,332.48 422.15,332.75 422.51,332.46 422.87,332 423.23,332.74 423.59,332.62 423.95,332.34 424.31,332.09 424.67,332.58 425.03,332.19 425.39,332.28 425.75,331.88 426.11,332.17 426.47,332.22 426.83,332.69 427.19,331.85 427.55,332.3 427.91,332.26 428.27,332.28 428.63,332.87 428.99,332.95 429.35,332.36 429.71,331.98 430.07,332.16 430.43,332 430.79,332.59 431.15,331.72 431.51,331.71 431.87,332.64 432.23,332.6 432.59,332.31 432.95,332.54 433.31,332.46 433.67,332.57 434.03,332.03 434.39,331.83 434.75,332.37 435.11,332.46 435.47,332.38 435.83,332.58 436.19,332.41 436.55,332.24 436.91,331.44 437.27,329.73 437.63,332.42 437.99,332.75 438.35,333.19 438.71,333.2 439.07,332.85 439.43,332.84 439.79,332.34 440.15,332.83 440.51,330.54 440.87,332.54 441.23,332.72 441.59,333.1 441.95,333.23 442.31,332.53 442.67,332.87 443.03,330.5 443.39,332.94 443.75,332.96 444.11,333.09 444.47,333.21 444.83,333.64 445.19,334.1 445.55,334.05 445.91,333.96 446.27,334.1 446.63,334.1 446.99,334.1 447.35,333.97 447.71,334.1 448.07,334.1 448.43,333.58 448.79,334.1 449.15,334.1 449.51,334.1 449.87,333.75 450.23,333.44 450.59,331.61 450.95,333.74 451.31,333.49 451.67,334.1 452.03,333.06 452.39,334.1 452.75,334.04 453.11,333.98 453.47,334.1 453.83,333.9 454.19,333.89 454.55,332.8 454.91,333.45 455.27,333.46 455.63,333.13 455.99,332.73 456.35,333.52 456.71,333.14 457.07,332.72 457.43,333.47 457.79,333.03 458.15,332.39 458.51,333.83 458.87,330.56 459.23,332.68 459.59,332.03 459.95,332.42 460.31,331.86 460.67,332.25 461.03,332 461.39,332.28 461.75,333.12 462.11,333.84 462.47,333.41 462.83,331.11 463.19,333.02 463.55,333.37 463.91,333.47 464.27,333.89 464.63,334.1 464.99,333.3 465.35,332.57 465.71,333.11 466.07,333.85 466.43,334.1 466.79,333.24 467.15,333.78 467.51,333.71 467.87,333.75 468.23,333.98 468.59,334.1 468.95,332.52 469.31,332.93 469.67,333.45 470.03,332.4 470.39,332.23 470.75,332.29 471.11,332.67 471.47,332.77 471.83,332.73 472.19,333.06 472.55,332.79 472.91,332.59 473.27,332.27 473.63,333.04 473.99,332.71 474.35,332.74 474.71,332.87 475.07,332.01 475.43,331.88 475.79,332.62 476.15,331.98 476.51,332.98 476.87,332.17 477.23,332.35 477.59,332.86 477.95,330.23 478.31,333 478.67,332.72 479.03,333.21 479.39,332.73 479.75,333.48 480.11,332.31 480.47,332.43 480.83,332.21 481.19,331.68 481.55,332.09 481.91,332.79 482.27,333.13 482.63,332.31 482.99,332.05 483.35,332.13 483.71,331.57 484.07,331.65 484.43,331.89 484.79,331.6 485.15,331.05 485.51,331.74 485.87,331.36 486.23,331.93 486.59,332.36 486.95,332.85 487.31,333.07 487.67,332.27 488.03,333.12 488.39,332.43 488.75,332.49 489.11,332.17 489.47,331.98 489.83,331.43 490.19,331.34 490.55,331.49 490.91,330.35 491.27,332.46 491.63,333.51 491.99,334.02 492.35,333.54 492.71,333.15 493.07,330.99 493.43,333.39 493.79,333.19 494.15,332.76 494.51,331.9 494.87,332.11 495.23,332.28 495.59,332.43 495.95,332.98 496.31,331.4 496.67,332.93 497.03,332.65 497.39,332.24 497.75,332.37 498.11,329.89 498.47,332.25 498.83,333.16 499.19,333.54 499.55,332.89 499.91,332.74 500.27,333.11 500.63,332.84 500.99,333.68 501.35,332.82 501.71,333.31 502.07,333.74 502.43,332.96 502.79,332.98 503.15,332.92 503.51,333.13 503.87,333.26 504.23,333.46 504.59,332.64 504.95,334.1 505.31,332.43 505.67,330.58 506.03,333.96 506.39,332.3 506.75,332.81 507.11,332.55 507.47,332.48 507.83,333.87 508.19,333.54 508.55,333.83 508.91,334.1 509.27,333.62 509.63,333.48 509.99,333.54 510.35,333.24 510.71,332.07 511.07,332.01 511.43,332.74 511.79,333.08 512.15,333.38 512.51,333.36 512.87,331.68 513.23,332.89 513.59,333.71 513.95,330.26 514.31,332.73 514.67,332.92 515.03,334.1 515.39,333.59 515.75,332.71 516.11,333.16 516.47,332.89 516.83,333.57 517.19,331.91 517.55,333.41 517.91,333.96 518.27,333.41 518.63,333.76 518.99,333.78 519.35,332.42 519.71,332.77 520.07,332.22 520.43,332 520.79,332.75 521.15,332.69 521.51,333.5 521.87,333.79 522.23,333.61 522.59,332.21 522.95,332.52 523.31,332.76 523.67,333.07 524.03,333.22 524.39,332.52 524.75,332.11 525.11,330.76 525.47,320.13 525.83,290.39 526.19,247.01 526.5,228.41 526.55,228.9 526.91,258.13 527.27,300.67 527.63,325.05 527.99,332.5 528.35,331.83 528.71,328.8 529.07,320.39 529.43,314.52 529.5,314.97 529.79,317.57 530.15,324.31 530.51,329.38 530.87,330.61 531.23,330.81 531.59,331.04 531.95,330.86 532.31,331.17 532.67,331.03 533.03,330.13 533.39,330.89 533.75,329.86 534.11,328.31 534.47,325.47 534.6,326 534.83,326.85 535.19,328.56 535.55,330.22 535.91,330.49 536.27,330.58 536.63,330.99 536.99,327.55 537.35,327.49 537.7,327.41 537.71,327.44 538.07,327.7 538.43,329.62 538.79,330.36 539.15,330.72 539.51,331.31 539.87,331.66 540.23,331.69 540.59,331.41 540.95,331.55 541.31,332.16 541.67,332.34 542.03,332.69 542.39,332.71 542.75,333.47 543.11,333.41 543.47,333.72 543.83,332.24 544.19,333.03 544.55,332.97 544.91,333.56 545.27,332.66 545.63,331.99 545.99,332.06 546.35,332.01 546.71,332.11 547.07,332.38 547.43,333.02 547.79,333.58 548.15,333.89 548.51,332.23 548.87,333.06 549.23,332.74 549.59,333.14 549.95,333.31 550.31,332.86 550.67,332.27 551.03,332.39 551.39,333.18 551.75,332.81 552.11,333.18 552.47,331.04 552.83,333.37 553.19,333.75 553.55,333.18 553.91,332.55 554.27,331.19 554.63,333.65 554.99,332.93 555.35,332.96 555.71,332.9 556.07,332.73 556.43,333.42 556.79,333.49 557.15,332.91 557.51,332.28 557.87,332.77 558.23,332.75 558.59,332.89 558.95,333.69 559.31,333.59 559.67,333.35 560.03,333.78 560.39,333.55 560.75,333.7 561.11,334.1 561.47,334.1 561.83,334.1 562.19,333.63 562.55,334.1 562.91,334.02 563.27,333.57 563.63,333.39 563.99,331.71 564.35,334.1 564.71,333.97 565.07,330.79 565.43,333.4 565.79,333.81 566.15,334.1 566.51,333.49 566.87,334.03 567.23,333.35 567.59,333.4 567.95,333.77 568.31,333.63 568.67,333.86 569.03,333.43 569.39,333.12 569.75,332.87 570.11,332.47 570.47,332.35 570.83,332.35 571.19,332.66 571.55,332.57 571.91,333.26 572.27,333.03 572.63,333.14 572.99,331 573.35,332.91 573.71,333.93 574.07,333.33 574.43,332.94 574.79,332.75 575.15,332.66 575.51,332.19 575.87,332.94 576.23,332.42 576.59,333.18 576.95,332.87 577.31,332.41 577.67,332.84 578.03,332.41 578.39,331.44 578.75,331.67 579.11,331.54 579.47,330.84 579.83,330.62 580.19,331.04 580.55,330.84 580.91,330.98 581.27,331.55 581.63,331.54 581.99,330.42 582.35,330.63 582.71,330.52 583.07,330.96 583.43,331.75 583.79,331.85 584.15,331.43 584.51,331.26 584.87,330.59 585.23,331.1 585.59,331.21 585.95,331.72 586.31,331.28 586.67,331.32 587.03,331.85 587.39,331.34 587.75,331.5 588.11,330.97 588.47,330.6 588.83,330.91 589.19,331.7 589.55,332.09 589.91,332.32 590.27,332.88 590.63,331.59 590.99,331.73 591.35,332.34 591.71,331.91 592.07,332.38 592.43,332.26 592.79,331.4 593.15,331.33 593.51,332.18 593.87,332.5 594.23,332.03 594.59,331.86 594.95,331.98 595.31,331.84 595.67,331.82 596.03,331.44 596.39,330.68 596.75,330.72 597.11,330.85 597.47,331.62 597.83,331.73 598.19,332.38 598.55,332.11 598.91,332.24 599.27,331.73 599.63,331.78 599.99,330.9 600.35,330.9 600.71,330.68 601.07,331.25 601.43,331.68 601.79,331.24 602.15,331.79 602.51,331.76 602.87,331.55 603.23,331.85 603.59,332.13 603.95,331.97 604.31,331.72 604.67,331.14 605.03,331.21 605.39,331.39 605.75,330.81 606.11,331.77 606.47,332.16 606.83,333.07 607.19,332.51 607.55,331.84 607.91,331.7 608.27,331.44 608.63,332.07 608.99,331.48 609.35,331.57 609.71,331.28 610.07,331.61 610.43,331.04 610.79,331.89 611.15,329.74 611.51,331.8 611.87,331.46 612.23,331.78 612.59,331.03 612.95,331.63 613.31,331.8 613.67,331.3 614.03,331.4 614.39,331.07 614.75,331.6 615.11,331.96 615.47,332.25 615.83,332.62 616.19,332.36 616.55,333.28 616.91,332.84 617.27,332.1 617.63,331.44 617.99,331.47 618.35,332.41 618.71,332.5 619.07,332.2 619.43,331.43 619.79,331.44 620.15,331.38 620.51,330.02 620.87,332.24 621.23,331.86 621.59,330.92 621.95,330.83 622.31,331.13 622.67,331.73 623.03,331.36 623.39,331.43 623.75,331.63 624.11,331.08 624.47,331.2 624.83,331.12 625.19,330.99 625.55,332.02 625.91,332.14 626.27,330.03 626.63,331.67 626.99,333.08 627.35,332.57 627.71,332.38 628.07,331.85 628.43,331.46 628.79,331.48 629.15,331.54 629.51,331.67 629.87,332.05 630.23,331.91 630.59,331.34 630.95,332.2 631.31,329.32 631.67,331.35 632.03,331.65 632.39,331.29 632.75,331.95 633.11,332.58 633.47,331.7 633.83,331.63 633.99,335.31" fill="#fff" stroke="none" stroke-width="1" />
<polyline points="416.39,334.31 416.39,332.55 416.75,332.15 417.11,332.71 417.47,332.47 417.83,332.87 418.19,333.15 418.55,332.01 418.91,329.05 419.27,331.14 419.63,331.69 419.99,330.06 420.35,331.6 420.71,331.32 421.07,331.58 421.43,332.5 421.79,332.48 422.15,332.75 422.51,332.46 422.87,332 423.23,332.74 423.59,332.62 423.95,332.34 424.31,332.09 424.67,332.58 425.03,332.19 425.39,332.28 425.75,331.88 426.11,332.17 426.47,332.22 426.83,332.69 427.19,331.85 427.55,332.3 427.91,332.26 428.27,332.28 428.63,332.87 428.99,332.95 429.35,332.36 429.71,331.98 430.07,332.16 430.43,332 430.79,332.59 431.15,331.72 431.51,331.71 431.87,332.64 432.23,332.6 432.59,332.31 432.95,332.54 433.31,332.46 433.67,332.57 434.03,332.03 434.39,331.83 434.75,332.37 435.11,332.46 435.47,332.38 435.83,332.58 436.19,332.41 436.55,332.24 436.91,331.44 437.27,329.73 437.63,332.42 437.99,332.75 438.35,333.19 438.71,333.2 439.07,332.85 439.43,332.84 439.79,332.34 440.15,332.83 440.51,330.54 440.87,332.54 441.23,332.72 441.59,333.1 441.95,333.23 442.31,332.53 442.67,332.87 443.03,330.5 443.39,332.94 443.75,332.96 444.11,333.09 444.47,333.21 444.83,333.64 445.19,334.1 445.55,334.05 445.91,333.96 446.27,334.1 446.63,334.1 446.99,334.1 447.35,333.97 447.71,334.1 448.07,334.1 448.43,333.58 448.79,334.1 449.15,334.1 449.51,334.1 449.87,333.75 450.23,333.44 450.59,331.61 450.95,333.74 451.31,333.49 451.67,334.1 452.03,333.06 452.39,334.1 452.75,334.04 453.11,333.98 453.47,334.1 453.83,333.9 454.19,333.89 454.55,332.8 454.91,333.45 455.27,333.46 455.63,333.13 455.99,332.73 456.35,333.52 456.71,333.14 457.07,332.72 457.43,333.47 457.79,333.03 458.15,332.39 458.51,333.83 458.87,330.56 459.23,332.68 459.59,332.03 459.95,332.42 460.31,331.86 460.67,332.25 461.03,332 461.39,332.28 461.75,333.12 462.11,333.84 462.47,333.41 462.83,331.11 463.19,333.02 463.55,333.37 463.91,333.47 464.27,333.89 464.63,334.1 464.99,333.3 465.35,332.57 465.71,333.11 466.07,333.85 466.43,334.1 466.79,333.24 467.15,333.78 467.51,333.71 467.87,333.75 468.23,333.98 468.59,334.1 468.95,332.52 469.31,332.93 469.67,333.45 470.03,332.4 470.39,332.23 470.75,332.29 471.11,332.67 471.47,332.77 471.83,332.73 472.19,333.06 472.55,332.79 472.91,332.59 473.27,332.27 473.63,333.04 473.99,332.71 474.35,332.74 474.71,332.87 475.07,332.01 475.43,331.88 475.79,332.62 476.15,331.98 476.51,332.98 476.87,332.17 477.23,332.35 477.59,332.86 477.95,330.23 478.31,333 478.67,332.72 479.03,333.21 479.39,332.73 479.75,333.48 480.11,332.31 480.47,332.43 480.83,332.21 481.19,331.68 481.55,332.09 481.91,332.79 482.27,333.13 482.63,332.31 482.99,332.05 483.35,332.13 483.71,331.57 484.07,331.65 484.43,331.89 484.79,331.6 485.15,331.05 485.51,331.74 485.87,331.36 486.23,331.93 486.59,332.36 486.95,332.85 487.31,333.07 487.67,332.27 488.03,333.12 488.39,332.43 488.75,332.49 489.11,332.17 489.47,331.98 489.83,331.43 490.19,331.34 490.55,331.49 490.91,330.35 491.27,332.46 491.63,333.51 491.99,334.02 492.35,333.54 492.71,333.15 493.07,330.99 493.43,333.39 493.79,333.19 494.15,332.76 494.51,331.9 494.87,332.11 495.23,332.28 495.59,332.43 495.95,332.98 496.31,331.4 496.67,332.93 497.03,332.65 497.39,332.24 497.75,332.37 498.11,329.89 498.47,332.25 498.83,333.16 499.19,333.54 499.55,332.89 499.91,332.74 500.27,333.11 500.63,332.84 500.99,333.68 501.35,332.82 501.71,333.31 502.07,333.74 502.43,332.96 502.79,332.98 503.15,332.92 503.51,333.13 503.87,333.26 504.23,333.46 504.59,332.64 504.95,334.1 505.31,332.43 505.67,330.58 506.03,333.96 506.39,332.3 506.75,332.81 507.11,332.55 507.47,332.48 507.83,333.87 508.19,333.54 508.55,333.83 508.91,334.1 509.27,333.62 509.63,333.48 509.99,333.54 510.35,333.24 510.71,332.07 511.07,332.01 511.43,332.74 511.79,333.08 512.15,333.38 512.51,333.36 512.87,331.68 513.23,332.89 513.59,333.71 513.95,330.26 514.31,332.73 514.67,332.92 515.03,334.1 515.39,333.59 515.75,332.71 516.11,333.16 516.47,332.89 516.83,333.57 517.19,331.91 517.55,333.41 517.91,333.96 518.27,333.41 518.63,333.76 518.99,333.78 519.35,332.42 519.71,332.77 520.07,332.22 520.43,332 520.79,332.75 521.15,332.69 521.51,333.5 521.87,333.79 522.23,333.61 522.59,332.21 522.95,332.52 523.31,332.76 523.67,333.07 524.03,333.22 524.39,332.52 524.75,332.11 525.11,330.76 525.47,320.13 525.83,290.39 526.19,247.01 526.5,228.41 526.55,228.9 526.91,258.13 527.27,300.67 527.63,325.05 527.99,332.5 528.35,331.83 528.71,328.8 529.07,320.39 529.43,314.52 529.5,314.97 529.79,317.57 530.15,324.31 530.51,329.38 530.87,330.61 531.23,330.81 531.59,331.04 531.95,330.86 532.31,331.17 532.67,331.03 533.03,330.13 533.39,330.89 533.75,329.86 534.11,328.31 534.47,325.47 534.6,326 534.83,326.85 535.19,328.56 535.55,330.22 535.91,330.49 536.27,330.58 536.63,330.99 536.99,327.55 537.35,327.49 537.7,327.41 537.71,327.44 538.07,327.7 538.43,329.62 538.79,330.36 539.15,330.72 539.51,331.31 539.87,331.66 540.23,331.69 540.59,331.41 540.95,331.55 541.31,332.16 541.67,332.34 542.03,332.69 542.39,332.71 542.75,333.47 543.11,333.41 543.47,333.72 543.83,332.24 544.19,333.03 544.55,332.97 544.91,333.56 545.27,332.66 545.63,331.99 545.99,332.06 546.35,332.01 546.71,332.11 547.07,332.38 547.43,333.02 547.79,333.58 548.15,333.89 548.51,332.23 548.87,333.06 549.23,332.74 549.59,333.14 549.95,333.31 550.31,332.86 550.67,332.27 551.03,332.39 551.39,333.18 551.75,332.81 552.11,333.18 552.47,331.04 552.83,333.37 553.19,333.75 553.55,333.18 553.91,332.55 554.27,331.19 554.63,333.65 554.99,332.93 555.35,332.96 555.71,332.9 556.07,332.73 556.43,333.42 556.79,333.49 557.15,332.91 557.51,332.28 557.87,332.77 558.23,332.75 558.59,332.89 558.95,333.69 559.31,333.59 559.67,333.35 560.03,333.78 560.39,333.55 560.75,333.7 561.11,334.1 561.47,334.1 561.83,334.1 562.19,333.63 562.55,334.1 562.91,334.02 563.27,333.57 563.63,333.39 563.99,331.71 564.35,334.1 564.71,333.97 565.07,330.79 565.43,333.4 565.79,333.81 566.15,334.1 566.51,333.49 566.87,334.03 567.23,333.35 567.59,333.4 567.95,333.77 568.31,333.63 568.67,333.86 569.03,333.43 569.39,333.12 569.75,332.87 570.11,332.47 570.47,332.35 570.83,332.35 571.19,332.66 571.55,332.57 571.91,333.26 572.27,333.03 572.63,333.14 572.99,331 573.35,332.91 573.71,333.93 574.07,333.33 574.43,332.94 574.79,332.75 575.15,332.66 575.51,332.19 575.87,332.94 576.23,332.42 576.59,333.18 576.95,332.87 577.31,332.41 577.67,332.84 578.03,332.41 578.39,331.44 578.75,331.67 579.11,331.54 579.47,330.84 579.83,330.62 580.19,331.04 580.55,330.84 580.91,330.98 581.27,331.55 581.63,331.54 581.99,330.42 582.35,330.63 582.71,330.52 583.07,330.96 583.43,331.75 583.79,331.85 584.15,331.43 584.51,331.26 584.87,330.59 585.23,331.1 585.59,331.21 585.95,331.72 586.31,331.28 586.67,331.32 587.03,331.85 587.39,331.34 587.75,331.5 588.11,330.97 588.47,330.6 588.83,330.91 589.19,331.7 589.55,332.09 589.91,332.32 590.27,332.88 590.63,331.59 590.99,331.73 591.35,332.34 591.71,331.91 592.07,332.38 592.43,332.26 592.79,331.4 593.15,331.33 593.51,332.18 593.87,332.5 594.23,332.03 594.59,331.86 594.95,331.98 595.31,331.84 595.67,331.82 596.03,331.44 596.39,330.68 596.75,330.72 597.11,330.85 597.47,331.62 597.83,331.73 598.19,332.38 598.55,332.11 598.91,332.24 599.27,331.73 599.63,331.78 599.99,330.9 600.35,330.9 600.71,330.68 601.07,331.25 601.43,331.68 601.79,331.24 602.15,331.79 602.51,331.76 602.87,331.55 603.23,331.85 603.59,332.13 603.95,331.97 604.31,331.72 604.67,331.14 605.03,331.21 605.39,331.39 605.75,330.81 606.11,331.77 606.47,332.16 606.83,333.07 607.19,332.51 607.55,331.84 607.91,331.7 608.27,331.44 608.63,332.07 608.99,331.48 609.35,331.57 609.71,331.28 610.07,331.61 610.43,331.04 610.79,331.89 611.15,329.74 611.51,331.8 611.87,331.46 612.23,331.78 612.59,331.03 612.95,331.63 613.31,331.8 613.67,331.3 614.03,331.4 614.39,331.07 614.75,331.6 615.11,331.96 615.47,332.25 615.83,332.62 616.19,332.36 616.55,333.28 616.91,332.84 617.27,332.1 617.63,331.44 617.99,331.47 618.35,332.41 618.71,332.5 619.07,332.2 619.43,331.43 619.79,331.44 620.15,331.38 620.51,330.02 620.87,332.24 621.23,331.86 621.59,330.92 621.95,330.83 622.31,331.13 622.67,331.73 623.03,331.36 623.39,331.43 623.75,331.63 624.11,331.08 624.47,331.2 624.83,331.12 625.19,330.99 625.55,332.02 625.91,332.14 626.27,330.03 626.63,331.67 626.99,333.08 627.35,332.57 627.71,332.38 628.07,331.85 628.43,331.46 628.79,331.48 629.15,331.54 629.51,331.67 629.87,332.05 630.23,331.91 630.59,331.34 630.95,332.2 631.31,329.32 631.67,331.35 632.03,331.65 632.39,331.29 632.75,331.95 633.11,332.58 633.47,331.7 633.83,331.63 633.99,334.31" fill="none" stroke="#000000" stroke-width="1.3" stroke-linejoin="round"/>
<polygon points="397.56,359.34 397.56,356.97 397.92,356.97 398.28,356.88 398.64,357.15 399,356.83 399.36,356.83 399.72,357.15 400.08,357.27 400.44,356.64 400.8,357.4 401.16,356.96 401.52,357.06 401.88,356.77 402.24,357.27 402.6,356.75 402.96,356.58 403.32,356.74 403.68,356.64 404.04,357 404.4,356.69 404.76,356.71 405.12,355.51 405.48,356.36 405.84,356.78 406.2,356.91 406.56,357 406.92,357.47 407.28,357.36 407.64,356.66 408,356.59 408.36,356.89 408.72,355.44 409.08,356.77 409.44,356.47 409.8,357.48 410.16,357.02 410.52,357.07 410.88,356.33 411.24,356.73 411.6,356.47 411.96,356.43 412.32,356.82 412.68,356.63 413.04,356.53 413.4,356.37 413.76,356.69 414.12,356.97 414.48,357.09 414.84,356.9 415.2,356.23 415.56,357.34 415.92,356.82 416.28,356.7 416.64,357.08 417,357.18 417.36,356.74 417.72,356.73 418.08,356.81 418.44,356.32 418.8,357.16 419.16,357.59 419.52,356.74 419.88,356.99 420.24,357.22 420.6,356.88 420.96,356.62 421.32,356.1 421.68,357.18 422.04,357.06 422.4,356.84 422.76,356.66 423.12,356.72 423.48,356.75 423.84,356.76 424.2,356.39 424.56,356.87 424.92,357.16 425.28,357.18 425.64,356.77 426,356.9 426.36,357.38 426.72,357.07 427.08,357.15 427.44,357.32 427.8,357.25 428.16,357.32 428.52,357.17 428.88,356.85 429.24,356.47 429.6,356.47 429.96,356.54 430.32,357.21 430.68,356.88 431.04,356.4 431.4,357.07 431.76,357.57 432.12,357.3 432.48,357.11 432.84,356.45 433.2,356.56 433.56,357.31 433.92,357.58 434.28,357.02 434.64,356.88 435,357.02 435.36,355.54 435.72,356.65 436.08,356.54 436.44,356.68 436.8,356.96 437.16,357.15 437.52,356.5 437.88,356.46 438.24,356.72 438.6,356.22 438.96,356.49 439.32,356.55 439.68,356.85 440.04,356.62 440.4,356.77 440.76,356.45 441.12,356.25 441.48,356.51 441.84,356.57 442.2,356.84 442.56,356.59 442.92,356.78 443.28,356.81 443.64,356.75 444,356.96 444.36,357.08 444.72,357.14 445.08,356.81 445.44,356.57 445.8,356.84 446.16,357.98 446.52,357.38 446.88,357.49 447.24,357.18 447.6,356.62 447.96,356.53 448.32,356.77 448.68,355.99 449.04,356.91 449.4,356.63 449.76,356.49 450.12,356.57 450.48,357.02 450.84,356.48 451.2,356.37 451.56,355.22 451.92,356.4 452.28,357.11 452.64,356.77 453,357.37 453.36,356.47 453.72,356.1 454.08,355.01 454.44,355.79 454.8,356.43 455.16,356.36 455.52,356.84 455.88,356.45 456.24,356.33 456.6,356.68 456.96,356.73 457.32,356.98 457.68,356.98 458.04,357.09 458.4,355.9 458.76,356.72 459.12,356.92 459.48,356.48 459.84,356.38 460.2,356.74 460.56,356.39 460.92,356.57 461.28,357.09 461.64,356.67 462,357.07 462.36,357.69 462.72,357.95 463.08,356.68 463.44,357.06 463.8,356.6 464.16,356.16 464.52,356.83 464.88,356.95 465.24,356.94 465.6,357.35 465.96,356.97 466.32,356.82 466.68,356.34 467.04,356.04 467.4,356.23 467.76,357.09 468.12,357.39 468.48,356.58 468.84,356.67 469.2,356.36 469.56,356.54 469.92,356.23 470.28,356.44 470.64,356.99 471,357.48 471.36,358.13 471.72,357.61 472.08,357.23 472.44,357.18 472.8,357.54 473.16,357.24 473.52,356.98 473.88,356.83 474.24,356.87 474.6,356.62 474.96,356.41 475.32,356.75 475.68,356.33 476.04,354.9 476.4,355.61 476.76,356.28 477.12,356.69 477.48,355.99 477.84,355.08 478.2,355.02 478.56,355.07 478.92,355.89 479.28,356.07 479.64,356.11 480,356.37 480.36,356.54 480.72,356.39 481.08,356.23 481.44,356.19 481.8,356.18 482.16,356.45 482.52,356.31 482.88,356.45 483.24,356.84 483.6,356.47 483.96,356.18 484.32,356.72 484.68,356.54 485.04,356.95 485.4,356.47 485.76,356.79 486.12,356.17 486.48,356.65 486.84,357.13 487.2,357.11 487.56,357.56 487.92,357.62 488.28,357.3 488.64,357.4 489,356.83 489.36,357.16 489.72,357.12 490.08,357.48 490.44,357.26 490.8,357.64 491.16,357.75 491.52,357.31 491.88,357.15 492.24,357.39 492.6,357.65 492.96,357.07 493.32,357.13 493.68,357.52 494.04,357.41 494.4,356.5 494.76,357.04 495.12,356.97 495.48,357.59 495.84,357.19 496.2,357.15 496.56,357.08 496.92,356.24 497.28,356.53 497.64,356.66 498,356.76 498.36,356.64 498.72,357.01 499.08,356.61 499.44,355.01 499.8,356.79 500.16,357.05 500.52,357.31 500.88,357.59 501.24,357.63 501.6,357.8 501.96,357.74 502.32,357.36 502.68,357.26 503.04,357.41 503.4,357.17 503.76,357.79 504.12,357.62 504.48,357.13 504.84,356.96 505.2,357.5 505.56,357.21 505.92,353.78 506.28,343.82 506.64,312.9 507,269.41 507.3,252.44 507.36,253.26 507.72,283.88 508.08,326.39 508.44,348.73 508.8,354.8 509.16,355.75 509.52,354.83 509.88,352.59 510.24,348.66 510.6,344.24 510.8,343.04 510.96,343.84 511.32,347.61 511.68,352.09 512.04,353.52 512.4,353.16 512.76,352.23 513.12,350.96 513.48,350.23 513.5,350.6 513.84,351.33 514.2,352.41 514.56,352.11 514.92,353.65 515.28,354.07 515.64,354.4 516,354.06 516.36,354.75 516.72,354.79 517.08,354.64 517.44,354.68 517.8,355.48 518.16,355.1 518.52,355.29 518.88,355.51 519.24,355.69 519.6,355.45 519.96,355.68 520.32,355.84 520.68,356.17 521.04,356.39 521.4,355.46 521.76,355.6 522.12,355.27 522.48,355.62 522.84,355.13 523.2,355.69 523.56,356.5 523.92,356.28 524.28,356.53 524.64,356.49 525,356.4 525.36,356.45 525.72,356.73 526.08,356.82 526.44,356.43 526.8,356.77 527.16,357.23 527.52,356.95 527.88,355.57 528.24,357.18 528.6,357.5 528.96,358.04 529.32,358.13 529.68,357.35 530.04,357.05 530.4,356.71 530.76,356.74 531.12,356.65 531.48,357.21 531.84,356.93 532.2,357.39 532.56,357.53 532.92,357.5 533.28,357.64 533.64,357.73 534,357.68 534.36,357.92 534.72,357.31 535.08,358.13 535.44,358.13 535.8,358.1 536.16,357.79 536.52,356.35 536.88,357.06 537.24,357.49 537.6,357.56 537.96,357.45 538.32,358.06 538.68,357.78 539.04,357.44 539.4,357.04 539.76,356.83 540.12,356.62 540.48,357.17 540.84,357.3 541.2,357.58 541.56,356.17 541.92,357.13 542.28,357.23 542.64,356.96 543,357.07 543.36,356.81 543.72,356.77 544.08,357.02 544.44,357.34 544.8,357.46 545.16,357.65 545.52,357.99 545.88,356.79 546.24,356.53 546.6,356.59 546.96,356.29 547.32,356.08 547.68,356.46 548.04,356.44 548.4,355.68 548.76,356.11 549.12,356.39 549.48,356.59 549.84,356.61 550.2,356.45 550.56,356.52 550.92,356.02 551.28,356.06 551.64,355.78 552,356.44 552.36,356.56 552.72,356.45 553.08,356.55 553.44,356.37 553.8,356.39 554.16,356.24 554.52,355.71 554.88,355.89 555.24,356.21 555.6,355.69 555.96,355.1 556.32,355.72 556.68,355.47 557.04,355.67 557.4,356.19 557.76,356.46 558.12,356.36 558.48,356.85 558.84,354.83 559.2,356.37 559.56,356.73 559.92,356.56 560.28,356.28 560.64,356.24 561,356.05 561.36,356.41 561.72,355.75 562.08,355.89 562.44,356.33 562.8,356.34 563.16,356.24 563.52,355.55 563.88,355.85 564.24,355.64 564.6,355.86 564.96,355.55 565.32,355.88 565.68,355.36 566.04,355.85 566.4,355.76 566.76,355.89 567.12,356.49 567.48,356.44 567.84,356.18 568.2,356.48 568.56,356.22 568.92,356.44 569.28,356.31 569.64,356.68 570,356.08 570.36,356.68 570.72,356.89 571.08,356.31 571.44,356.33 571.8,356.21 572.16,356.4 572.52,355.66 572.88,356.17 573.24,355.94 573.6,355.73 573.96,355.68 574.32,355.61 574.68,355.59 575.04,356.05 575.4,356.33 575.76,355.59 576.12,356 576.48,356.1 576.84,355.95 577.2,355.87 577.56,356.08 577.92,356.65 578.28,356.55 578.64,356.39 579,356.07 579.36,356.41 579.72,356.7 580.08,356.73 580.44,357.08 580.8,356.72 581.16,356.33 581.52,354.05 581.88,356.07 582.24,356.17 582.6,355.38 582.96,356.62 583.32,357.06 583.68,356.83 584.04,356.41 584.4,356.42 584.76,356.69 585.12,356.84 585.48,356.83 585.84,356.41 586.2,356.82 586.56,356.48 586.92,356.28 587.28,356.5 587.64,356.36 588,356.56 588.36,356.59 588.72,356.36 589.08,356.6 589.44,356.67 589.8,356.19 590.16,356.03 590.52,356.99 590.88,356.79 591.24,356.29 591.6,356.38 591.96,356.7 592.32,356.91 592.68,357.25 593.04,356.91 593.4,356.89 593.76,356.7 594.12,356.35 594.48,356.96 594.84,357.15 595.2,356.92 595.56,357.16 595.92,356.89 596.28,357.07 596.64,356.87 597,356.44 597.36,357.01 597.72,357.07 598.08,357.42 598.44,357.01 598.8,357.04 599.16,355.54 599.52,355.96 599.88,356.08 600.24,356.73 600.6,356.74 600.96,356.77 601.32,356.01 601.68,356.32 602.04,356.62 602.4,357.14 602.76,356.53 603.12,356.17 603.48,356.27 603.84,356.99 604.2,356.37 604.56,356.63 604.92,356.66 605.28,356.58 605.64,356.52 606,356.06 606.36,356.57 606.72,356.61 607.08,356.92 607.44,357.21 607.8,356.3 608.16,356.75 608.52,357.33 608.88,357.64 609.24,357.3 609.6,354.92 609.96,357 610.32,356.93 610.68,356.67 611.04,356.22 611.4,356.28 611.76,356.37 612.12,356.02 612.48,356.41 612.84,356.47 613.2,356.15 613.56,356.81 613.92,356.53 614.28,357.08 614.64,357.52 615,358.13 615.16,359.34" fill="#fff" stroke="none" stroke-width="1" />
<polyline points="397.56,358.34 397.56,356.97 397.92,356.97 398.28,356.88 398.64,357.15 399,356.83 399.36,356.83 399.72,357.15 400.08,357.27 400.44,356.64 400.8,357.4 401.16,356.96 401.52,357.06 401.88,356.77 402.24,357.27 402.6,356.75 402.96,356.58 403.32,356.74 403.68,356.64 404.04,357 404.4,356.69 404.76,356.71 405.12,355.51 405.48,356.36 405.84,356.78 406.2,356.91 406.56,357 406.92,357.47 407.28,357.36 407.64,356.66 408,356.59 408.36,356.89 408.72,355.44 409.08,356.77 409.44,356.47 409.8,357.48 410.16,357.02 410.52,357.07 410.88,356.33 411.24,356.73 411.6,356.47 411.96,356.43 412.32,356.82 412.68,356.63 413.04,356.53 413.4,356.37 413.76,356.69 414.12,356.97 414.48,357.09 414.84,356.9 415.2,356.23 415.56,357.34 415.92,356.82 416.28,356.7 416.64,357.08 417,357.18 417.36,356.74 417.72,356.73 418.08,356.81 418.44,356.32 418.8,357.16 419.16,357.59 419.52,356.74 419.88,356.99 420.24,357.22 420.6,356.88 420.96,356.62 421.32,356.1 421.68,357.18 422.04,357.06 422.4,356.84 422.76,356.66 423.12,356.72 423.48,356.75 423.84,356.76 424.2,356.39 424.56,356.87 424.92,357.16 425.28,357.18 425.64,356.77 426,356.9 426.36,357.38 426.72,357.07 427.08,357.15 427.44,357.32 427.8,357.25 428.16,357.32 428.52,357.17 428.88,356.85 429.24,356.47 429.6,356.47 429.96,356.54 430.32,357.21 430.68,356.88 431.04,356.4 431.4,357.07 431.76,357.57 432.12,357.3 432.48,357.11 432.84,356.45 433.2,356.56 433.56,357.31 433.92,357.58 434.28,357.02 434.64,356.88 435,357.02 435.36,355.54 435.72,356.65 436.08,356.54 436.44,356.68 436.8,356.96 437.16,357.15 437.52,356.5 437.88,356.46 438.24,356.72 438.6,356.22 438.96,356.49 439.32,356.55 439.68,356.85 440.04,356.62 440.4,356.77 440.76,356.45 441.12,356.25 441.48,356.51 441.84,356.57 442.2,356.84 442.56,356.59 442.92,356.78 443.28,356.81 443.64,356.75 444,356.96 444.36,357.08 444.72,357.14 445.08,356.81 445.44,356.57 445.8,356.84 446.16,357.98 446.52,357.38 446.88,357.49 447.24,357.18 447.6,356.62 447.96,356.53 448.32,356.77 448.68,355.99 449.04,356.91 449.4,356.63 449.76,356.49 450.12,356.57 450.48,357.02 450.84,356.48 451.2,356.37 451.56,355.22 451.92,356.4 452.28,357.11 452.64,356.77 453,357.37 453.36,356.47 453.72,356.1 454.08,355.01 454.44,355.79 454.8,356.43 455.16,356.36 455.52,356.84 455.88,356.45 456.24,356.33 456.6,356.68 456.96,356.73 457.32,356.98 457.68,356.98 458.04,357.09 458.4,355.9 458.76,356.72 459.12,356.92 459.48,356.48 459.84,356.38 460.2,356.74 460.56,356.39 460.92,356.57 461.28,357.09 461.64,356.67 462,357.07 462.36,357.69 462.72,357.95 463.08,356.68 463.44,357.06 463.8,356.6 464.16,356.16 464.52,356.83 464.88,356.95 465.24,356.94 465.6,357.35 465.96,356.97 466.32,356.82 466.68,356.34 467.04,356.04 467.4,356.23 467.76,357.09 468.12,357.39 468.48,356.58 468.84,356.67 469.2,356.36 469.56,356.54 469.92,356.23 470.28,356.44 470.64,356.99 471,357.48 471.36,358.13 471.72,357.61 472.08,357.23 472.44,357.18 472.8,357.54 473.16,357.24 473.52,356.98 473.88,356.83 474.24,356.87 474.6,356.62 474.96,356.41 475.32,356.75 475.68,356.33 476.04,354.9 476.4,355.61 476.76,356.28 477.12,356.69 477.48,355.99 477.84,355.08 478.2,355.02 478.56,355.07 478.92,355.89 479.28,356.07 479.64,356.11 480,356.37 480.36,356.54 480.72,356.39 481.08,356.23 481.44,356.19 481.8,356.18 482.16,356.45 482.52,356.31 482.88,356.45 483.24,356.84 483.6,356.47 483.96,356.18 484.32,356.72 484.68,356.54 485.04,356.95 485.4,356.47 485.76,356.79 486.12,356.17 486.48,356.65 486.84,357.13 487.2,357.11 487.56,357.56 487.92,357.62 488.28,357.3 488.64,357.4 489,356.83 489.36,357.16 489.72,357.12 490.08,357.48 490.44,357.26 490.8,357.64 491.16,357.75 491.52,357.31 491.88,357.15 492.24,357.39 492.6,357.65 492.96,357.07 493.32,357.13 493.68,357.52 494.04,357.41 494.4,356.5 494.76,357.04 495.12,356.97 495.48,357.59 495.84,357.19 496.2,357.15 496.56,357.08 496.92,356.24 497.28,356.53 497.64,356.66 498,356.76 498.36,356.64 498.72,357.01 499.08,356.61 499.44,355.01 499.8,356.79 500.16,357.05 500.52,357.31 500.88,357.59 501.24,357.63 501.6,357.8 501.96,357.74 502.32,357.36 502.68,357.26 503.04,357.41 503.4,357.17 503.76,357.79 504.12,357.62 504.48,357.13 504.84,356.96 505.2,357.5 505.56,357.21 505.92,353.78 506.28,343.82 506.64,312.9 507,269.41 507.3,252.44 507.36,253.26 507.72,283.88 508.08,326.39 508.44,348.73 508.8,354.8 509.16,355.75 509.52,354.83 509.88,352.59 510.24,348.66 510.6,344.24 510.8,343.04 510.96,343.84 511.32,347.61 511.68,352.09 512.04,353.52 512.4,353.16 512.76,352.23 513.12,350.96 513.48,350.23 513.5,350.6 513.84,351.33 514.2,352.41 514.56,352.11 514.92,353.65 515.28,354.07 515.64,354.4 516,354.06 516.36,354.75 516.72,354.79 517.08,354.64 517.44,354.68 517.8,355.48 518.16,355.1 518.52,355.29 518.88,355.51 519.24,355.69 519.6,355.45 519.96,355.68 520.32,355.84 520.68,356.17 521.04,356.39 521.4,355.46 521.76,355.6 522.12,355.27 522.48,355.62 522.84,355.13 523.2,355.69 523.56,356.5 523.92,356.28 524.28,356.53 524.64,356.49 525,356.4 525.36,356.45 525.72,356.73 526.08,356.82 526.44,356.43 526.8,356.77 527.16,357.23 527.52,356.95 527.88,355.57 528.24,357.18 528.6,357.5 528.96,358.04 529.32,358.13 529.68,357.35 530.04,357.05 530.4,356.71 530.76,356.74 531.12,356.65 531.48,357.21 531.84,356.93 532.2,357.39 532.56,357.53 532.92,357.5 533.28,357.64 533.64,357.73 534,357.68 534.36,357.92 534.72,357.31 535.08,358.13 535.44,358.13 535.8,358.1 536.16,357.79 536.52,356.35 536.88,357.06 537.24,357.49 537.6,357.56 537.96,357.45 538.32,358.06 538.68,357.78 539.04,357.44 539.4,357.04 539.76,356.83 540.12,356.62 540.48,357.17 540.84,357.3 541.2,357.58 541.56,356.17 541.92,357.13 542.28,357.23 542.64,356.96 543,357.07 543.36,356.81 543.72,356.77 544.08,357.02 544.44,357.34 544.8,357.46 545.16,357.65 545.52,357.99 545.88,356.79 546.24,356.53 546.6,356.59 546.96,356.29 547.32,356.08 547.68,356.46 548.04,356.44 548.4,355.68 548.76,356.11 549.12,356.39 549.48,356.59 549.84,356.61 550.2,356.45 550.56,356.52 550.92,356.02 551.28,356.06 551.64,355.78 552,356.44 552.36,356.56 552.72,356.45 553.08,356.55 553.44,356.37 553.8,356.39 554.16,356.24 554.52,355.71 554.88,355.89 555.24,356.21 555.6,355.69 555.96,355.1 556.32,355.72 556.68,355.47 557.04,355.67 557.4,356.19 557.76,356.46 558.12,356.36 558.48,356.85 558.84,354.83 559.2,356.37 559.56,356.73 559.92,356.56 560.28,356.28 560.64,356.24 561,356.05 561.36,356.41 561.72,355.75 562.08,355.89 562.44,356.33 562.8,356.34 563.16,356.24 563.52,355.55 563.88,355.85 564.24,355.64 564.6,355.86 564.96,355.55 565.32,355.88 565.68,355.36 566.04,355.85 566.4,355.76 566.76,355.89 567.12,356.49 567.48,356.44 567.84,356.18 568.2,356.48 568.56,356.22 568.92,356.44 569.28,356.31 569.64,356.68 570,356.08 570.36,356.68 570.72,356.89 571.08,356.31 571.44,356.33 571.8,356.21 572.16,356.4 572.52,355.66 572.88,356.17 573.24,355.94 573.6,355.73 573.96,355.68 574.32,355.61 574.68,355.59 575.04,356.05 575.4,356.33 575.76,355.59 576.12,356 576.48,356.1 576.84,355.95 577.2,355.87 577.56,356.08 577.92,356.65 578.28,356.55 578.64,356.39 579,356.07 579.36,356.41 579.72,356.7 580.08,356.73 580.44,357.08 580.8,356.72 581.16,356.33 581.52,354.05 581.88,356.07 582.24,356.17 582.6,355.38 582.96,356.62 583.32,357.06 583.68,356.83 584.04,356.41 584.4,356.42 584.76,356.69 585.12,356.84 585.48,356.83 585.84,356.41 586.2,356.82 586.56,356.48 586.92,356.28 587.28,356.5 587.64,356.36 588,356.56 588.36,356.59 588.72,356.36 589.08,356.6 589.44,356.67 589.8,356.19 590.16,356.03 590.52,356.99 590.88,356.79 591.24,356.29 591.6,356.38 591.96,356.7 592.32,356.91 592.68,357.25 593.04,356.91 593.4,356.89 593.76,356.7 594.12,356.35 594.48,356.96 594.84,357.15 595.2,356.92 595.56,357.16 595.92,356.89 596.28,357.07 596.64,356.87 597,356.44 597.36,357.01 597.72,357.07 598.08,357.42 598.44,357.01 598.8,357.04 599.16,355.54 599.52,355.96 599.88,356.08 600.24,356.73 600.6,356.74 600.96,356.77 601.32,356.01 601.68,356.32 602.04,356.62 602.4,357.14 602.76,356.53 603.12,356.17 603.48,356.27 603.84,356.99 604.2,356.37 604.56,356.63 604.92,356.66 605.28,356.58 605.64,356.52 606,356.06 606.36,356.57 606.72,356.61 607.08,356.92 607.44,357.21 607.8,356.3 608.16,356.75 608.52,357.33 608.88,357.64 609.24,357.3 609.6,354.92 609.96,357 610.32,356.93 610.68,356.67 611.04,356.22 611.4,356.28 611.76,356.37 612.12,356.02 612.48,356.41 612.84,356.47 613.2,356.15 613.56,356.81 613.92,356.53 614.28,357.08 614.64,357.52 615,358.13 615.16,358.34" fill="none" stroke="#00f0f0" stroke-width="1.3" stroke-linejoin="round"/>
<polygon points="378.74,383.36 378.74,381.18 379.1,381.05 379.46,381.09 379.82,381.08 380.18,380.46 380.54,380.57 380.9,381.18 381.26,381.2 381.62,381 381.98,380.86 382.34,380.93 382.7,381.03 383.06,381.3 383.42,381.62 383.78,381.56 384.14,381.47 384.5,381.65 384.86,381.25 385.22,380.24 385.58,381.24 385.94,380.84 386.3,380.6 386.66,381.01 387.02,380.77 387.38,380.81 387.74,380.55 388.1,380.96 388.46,380.71 388.82,380.93 389.18,381.19 389.54,380.94 389.9,381.08 390.26,380.54 390.62,380.6 390.98,381.05 391.34,381.27 391.7,381 392.06,380.84 392.42,381.16 392.78,381.18 393.14,380.51 393.5,380.8 393.86,381.12 394.22,380.93 394.58,381.3 394.94,381.11 395.3,381.04 395.66,380.97 396.02,380.43 396.38,380.35 396.74,380.53 397.1,381.18 397.46,381.33 397.82,381.56 398.18,381.54 398.54,381.46 398.9,381.31 399.26,382.05 399.62,381.81 399.98,381.64 400.34,380.81 400.7,381.17 401.06,381.18 401.42,381.51 401.78,381.72 402.14,381.21 402.5,381.36 402.86,381.52 403.22,381.11 403.58,380.66 403.94,380.79 404.3,380.93 404.66,380.36 405.02,380.71 405.38,380.54 405.74,380.29 406.1,380.42 406.46,380.8 406.82,380.14 407.18,380.3 407.54,380.32 407.9,380.5 408.26,380.85 408.62,380.19 408.98,380.29 409.34,380.61 409.7,381.16 410.06,380.9 410.42,380.45 410.78,380.39 411.14,380.92 411.5,380.8 411.86,380.52 412.22,380.29 412.58,380.53 412.94,380.24 413.3,381.09 413.66,381.26 414.02,380.61 414.38,380.48 414.74,380.74 415.1,380.74 415.46,380.82 415.82,380.54 416.18,380.95 416.54,380.54 416.9,380.51 417.26,380.5 417.62,379.16 417.98,380.55 418.34,380.35 418.7,380.65 419.06,380.31 419.42,380.65 419.78,380.41 420.14,380.51 420.5,380.51 420.86,380.59 421.22,380.45 421.58,380.83 421.94,380.78 422.3,381.08 422.66,381.26 423.02,381.3 423.38,380.86 423.74,381.19 424.1,381.04 424.46,380.87 424.82,379.08 425.18,380.88 425.54,380.97 425.9,380.57 426.26,381.04 426.62,381.2 426.98,380.88 427.34,380.02 427.7,380.3 428.06,380.41 428.42,379.59 428.78,380.25 429.14,379.77 429.5,378.3 429.86,379.25 430.22,379.9 430.58,380.31 430.94,380.96 431.3,380.59 431.66,380.42 432.02,380.16 432.38,380.26 432.74,380.03 433.1,379.74 433.46,380.87 433.82,380.73 434.18,380.55 434.54,380.14 434.9,380.43 435.26,380.54 435.62,379.94 435.98,380.11 436.34,380.27 436.7,380.37 437.06,380.37 437.42,380.16 437.78,380.4 438.14,380.28 438.5,379.95 438.86,379.78 439.22,379.97 439.58,380.22 439.94,379.82 440.3,379.89 440.66,380.25 441.02,380.49 441.38,380.69 441.74,380.88 442.1,380.21 442.46,380.68 442.82,381.17 443.18,381.17 443.54,381.06 443.9,379.27 444.26,381.08 444.62,381.14 444.98,380.93 445.34,380.71 445.7,380.36 446.06,380.71 446.42,380.76 446.78,379.17 447.14,379.9 447.5,379.83 447.86,380.41 448.22,380.36 448.58,380.39 448.94,378.5 449.3,380.05 449.66,379.92 450.02,379.84 450.38,379.74 450.74,379.78 451.1,379.67 451.46,379.48 451.82,379.39 452.18,379.23 452.54,379.02 452.9,378.77 453.26,379.05 453.62,379.07 453.98,379.09 454.34,379.02 454.7,379.31 455.06,378.88 455.42,379.32 455.78,378.84 456.14,378.83 456.5,378.96 456.86,378.99 457.22,379.61 457.58,379.26 457.94,378.87 458.3,378.24 458.66,377.96 459.02,378.72 459.38,378.52 459.74,379.39 460.1,379.62 460.46,379.91 460.82,380.32 461.18,380.02 461.54,379.75 461.9,379.72 462.26,379.71 462.62,379.37 462.98,378.96 463.34,379.09 463.7,378.83 464.06,378.86 464.42,379.2 464.78,378.15 465.14,379.24 465.5,378.77 465.86,379.01 466.22,379.09 466.58,378.79 466.94,378.68 467.3,379.08 467.66,379.4 468.02,378.87 468.38,378.73 468.74,378.5 469.1,377.84 469.46,379.3 469.82,379.39 470.18,379.87 470.54,378.39 470.9,379.57 471.26,379.79 471.62,380.17 471.98,378.71 472.34,378.57 472.7,379.26 473.06,379.39 473.42,379.52 473.78,380.04 474.14,380.2 474.5,380.92 474.86,380.34 475.22,380.74 475.58,380.54 475.94,379.76 476.3,380.86 476.66,380.3 477.02,380.29 477.38,380.4 477.74,379.96 478.1,380.36 478.46,381.19 478.82,381.13 479.18,381.44 479.54,381.27 479.9,381.12 480.26,381.14 480.62,381.25 480.98,381.42 481.34,381.82 481.7,381.95 482.06,382.15 482.42,379.6 482.78,381.53 483.14,381.47 483.5,381.47 483.86,381.6 484.22,382 484.58,381.67 484.94,381.73 485.3,381.53 485.66,381.1 486.02,381.22 486.38,381.36 486.74,381.74 487.1,381.91 487.46,380.73 487.82,375.07 488.18,354.21 488.54,312.9 488.9,278.62 489,276.46 489.26,289.48 489.62,332.52 489.98,365.65 490.34,377.98 490.7,380.15 491.06,379.77 491.42,378.42 491.78,374.43 492.14,369.71 492.4,367.55 492.5,367.15 492.86,371.17 493.22,375.4 493.58,377.82 493.94,378.38 494.3,378.55 494.66,377.98 495.02,375.99 495.38,374.99 495.5,375.15 495.74,375.22 496.1,376.93 496.46,377.34 496.82,377.73 497.18,378.29 497.54,378.39 497.9,378.26 498.26,378.46 498.62,378.17 498.98,378.8 499.34,379.28 499.7,379.03 500.06,379.16 500.42,379.24 500.78,379.05 501.14,377.65 501.5,378.5 501.86,378.8 502.22,378.71 502.58,377.54 502.94,379.37 503.3,379.35 503.66,379.24 504.02,378.96 504.38,379.19 504.74,379.44 505.1,379.53 505.46,379.65 505.82,379.64 506.18,379 506.54,378.34 506.9,378.27 507.26,378.95 507.62,379.12 507.98,379.82 508.34,380.1 508.7,379.71 509.06,380.25 509.42,380.29 509.78,380 510.14,379.82 510.5,379.94 510.86,379.55 511.22,379.77 511.58,379.22 511.94,379.48 512.3,379.66 512.66,379.67 513.02,379.86 513.38,380.33 513.74,380.46 514.1,380.17 514.46,379.75 514.82,379.73 515.18,379.76 515.54,379.92 515.9,380.02 516.26,380.23 516.62,380.08 516.98,379.89 517.34,379.53 517.7,379.78 518.06,379.83 518.42,379.43 518.78,380.24 519.14,380.46 519.5,380.24 519.86,380.27 520.22,380.71 520.58,380.89 520.94,380.47 521.3,380.71 521.66,380.28 522.02,379.88 522.38,380.44 522.74,378.88 523.1,380.47 523.46,380.64 523.82,380.52 524.18,380.78 524.54,379.07 524.9,380.66 525.26,380.21 525.62,380.37 525.98,380.32 526.34,380.7 526.7,380.46 527.06,380.61 527.42,381.04 527.78,381.74 528.14,381.99 528.5,381.42 528.86,381.32 529.22,381.38 529.58,380.97 529.94,380.87 530.3,380.28 530.66,380.33 531.02,380.52 531.38,380.29 531.74,380.72 532.1,380.78 532.46,380.27 532.82,380.4 533.18,380.52 533.54,380.97 533.9,379.14 534.26,380.85 534.62,380.43 534.98,380.23 535.34,380.28 535.7,378.28 536.06,380.13 536.42,379.85 536.78,380.42 537.14,380.77 537.5,380.74 537.86,381.17 538.22,380.82 538.58,380.66 538.94,380.98 539.3,381.01 539.66,380.85 540.02,380.01 540.38,379.84 540.74,379.81 541.1,379.93 541.46,379.74 541.82,379.86 542.18,379.85 542.54,380.23 542.9,380.02 543.26,379.93 543.62,379.41 543.98,379.92 544.34,379.94 544.7,380.33 545.06,380.11 545.42,379.92 545.78,379.24 546.14,378.96 546.5,379.47 546.86,379.44 547.22,379.68 547.58,379.35 547.94,380.12 548.3,380.37 548.66,379.95 549.02,380.03 549.38,380.15 549.74,380.29 550.1,380.05 550.46,379.81 550.82,379.81 551.18,380.37 551.54,380.04 551.9,379.27 552.26,378.7 552.62,378.53 552.98,379.52 553.34,379.46 553.7,379.57 554.06,379.18 554.42,379.47 554.78,379.67 555.14,379.52 555.5,378.7 555.86,378.71 556.22,379.62 556.58,379.13 556.94,379.07 557.3,379.17 557.66,379.31 558.02,378.62 558.38,379.66 558.74,379.9 559.1,380.23 559.46,379.32 559.82,379.14 560.18,379.55 560.54,379.52 560.9,378.56 561.26,379.72 561.62,379.64 561.98,379.39 562.34,377.34 562.7,379.53 563.06,379.62 563.42,380.08 563.78,379.44 564.14,379.29 564.5,378.99 564.86,379.51 565.22,378.95 565.58,379.37 565.94,379 566.3,379.2 566.66,377.95 567.02,379.82 567.38,379.28 567.74,379.45 568.1,379.14 568.46,379.35 568.82,379.15 569.18,379.31 569.54,379.65 569.9,379.46 570.26,379.64 570.62,379.31 570.98,379.97 571.34,379.54 571.7,379.43 572.06,378.07 572.42,379.09 572.78,379.47 573.14,379.57 573.5,379.17 573.86,379.48 574.22,378.92 574.58,379.76 574.94,380.08 575.3,379.51 575.66,379.14 576.02,379.29 576.38,379.62 576.74,379.76 577.1,379.81 577.46,379.84 577.82,378.8 578.18,379.25 578.54,379.62 578.9,379.85 579.26,379.94 579.62,379.1 579.98,379.34 580.34,379.39 580.7,379.61 581.06,378.94 581.42,378.73 581.78,379.11 582.14,379.32 582.5,378.97 582.86,379.64 583.22,377.82 583.58,379.23 583.94,379.47 584.3,379.69 584.66,379.95 585.02,379.31 585.38,379.72 585.74,379.73 586.1,380.04 586.46,379.41 586.82,378.64 587.18,379.04 587.54,379.39 587.9,379.56 588.26,379.96 588.62,380.15 588.98,379.93 589.34,378.33 589.7,379.91 590.06,379.66 590.42,379.47 590.78,378.52 591.14,379.75 591.5,379.8 591.86,380 592.22,380.47 592.58,379.66 592.94,378.94 593.3,379.35 593.66,379.52 594.02,379.33 594.38,379.36 594.74,379.58 595.1,379.52 595.46,380.03 595.82,379.71 596.18,379.82 596.34,383.36" fill="#fff" stroke="none" stroke-width="1" />
<polyline points="378.74,382.36 378.74,381.18 379.1,381.05 379.46,381.09 379.82,381.08 380.18,380.46 380.54,380.57 380.9,381.18 381.26,381.2 381.62,381 381.98,380.86 382.34,380.93 382.7,381.03 383.06,381.3 383.42,381.62 383.78,381.56 384.14,381.47 384.5,381.65 384.86,381.25 385.22,380.24 385.58,381.24 385.94,380.84 386.3,380.6 386.66,381.01 387.02,380.77 387.38,380.81 387.74,380.55 388.1,380.96 388.46,380.71 388.82,380.93 389.18,381.19 389.54,380.94 389.9,381.08 390.26,380.54 390.62,380.6 390.98,381.05 391.34,381.27 391.7,381 392.06,380.84 392.42,381.16 392.78,381.18 393.14,380.51 393.5,380.8 393.86,381.12 394.22,380.93 394.58,381.3 394.94,381.11 395.3,381.04 395.66,380.97 396.02,380.43 396.38,380.35 396.74,380.53 397.1,381.18 397.46,381.33 397.82,381.56 398.18,381.54 398.54,381.46 398.9,381.31 399.26,382.05 399.62,381.81 399.98,381.64 400.34,380.81 400.7,381.17 401.06,381.18 401.42,381.51 401.78,381.72 402.14,381.21 402.5,381.36 402.86,381.52 403.22,381.11 403.58,380.66 403.94,380.79 404.3,380.93 404.66,380.36 405.02,380.71 405.38,380.54 405.74,380.29 406.1,380.42 406.46,380.8 406.82,380.14 407.18,380.3 407.54,380.32 407.9,380.5 408.26,380.85 408.62,380.19 408.98,380.29 409.34,380.61 409.7,381.16 410.06,380.9 410.42,380.45 410.78,380.39 411.14,380.92 411.5,380.8 411.86,380.52 412.22,380.29 412.58,380.53 412.94,380.24 413.3,381.09 413.66,381.26 414.02,380.61 414.38,380.48 414.74,380.74 415.1,380.74 415.46,380.82 415.82,380.54 416.18,380.95 416.54,380.54 416.9,380.51 417.26,380.5 417.62,379.16 417.98,380.55 418.34,380.35 418.7,380.65 419.06,380.31 419.42,380.65 419.78,380.41 420.14,380.51 420.5,380.51 420.86,380.59 421.22,380.45 421.58,380.83 421.94,380.78 422.3,381.08 422.66,381.26 423.02,381.3 423.38,380.86 423.74,381.19 424.1,381.04 424.46,380.87 424.82,379.08 425.18,380.88 425.54,380.97 425.9,380.57 426.26,381.04 426.62,381.2 426.98,380.88 427.34,380.02 427.7,380.3 428.06,380.41 428.42,379.59 428.78,380.25 429.14,379.77 429.5,378.3 429.86,379.25 430.22,379.9 430.58,380.31 430.94,380.96 431.3,380.59 431.66,380.42 432.02,380.16 432.38,380.26 432.74,380.03 433.1,379.74 433.46,380.87 433.82,380.73 434.18,380.55 434.54,380.14 434.9,380.43 435.26,380.54 435.62,379.94 435.98,380.11 436.34,380.27 436.7,380.37 437.06,380.37 437.42,380.16 437.78,380.4 438.14,380.28 438.5,379.95 438.86,379.78 439.22,379.97 439.58,380.22 439.94,379.82 440.3,379.89 440.66,380.25 441.02,380.49 441.38,380.69 441.74,380.88 442.1,380.21 442.46,380.68 442.82,381.17 443.18,381.17 443.54,381.06 443.9,379.27 444.26,381.08 444.62,381.14 444.98,380.93 445.34,380.71 445.7,380.36 446.06,380.71 446.42,380.76 446.78,379.17 447.14,379.9 447.5,379.83 447.86,380.41 448.22,380.36 448.58,380.39 448.94,378.5 449.3,380.05 449.66,379.92 450.02,379.84 450.38,379.74 450.74,379.78 451.1,379.67 451.46,379.48 451.82,379.39 452.18,379.23 452.54,379.02 452.9,378.77 453.26,379.05 453.62,379.07 453.98,379.09 454.34,379.02 454.7,379.31 455.06,378.88 455.42,379.32 455.78,378.84 456.14,378.83 456.5,378.96 456.86,378.99 457.22,379.61 457.58,379.26 457.94,378.87 458.3,378.24 458.66,377.96 459.02,378.72 459.38,378.52 459.74,379.39 460.1,379.62 460.46,379.91 460.82,380.32 461.18,380.02 461.54,379.75 461.9,379.72 462.26,379.71 462.62,379.37 462.98,378.96 463.34,379.09 463.7,378.83 464.06,378.86 464.42,379.2 464.78,378.15 465.14,379.24 465.5,378.77 465.86,379.01 466.22,379.09 466.58,378.79 466.94,378.68 467.3,379.08 467.66,379.4 468.02,378.87 468.38,378.73 468.74,378.5 469.1,377.84 469.46,379.3 469.82,379.39 470.18,379.87 470.54,378.39 470.9,379.57 471.26,379.79 471.62,380.17 471.98,378.71 472.34,378.57 472.7,379.26 473.06,379.39 473.42,379.52 473.78,380.04 474.14,380.2 474.5,380.92 474.86,380.34 475.22,380.74 475.58,380.54 475.94,379.76 476.3,380.86 476.66,380.3 477.02,380.29 477.38,380.4 477.74,379.96 478.1,380.36 478.46,381.19 478.82,381.13 479.18,381.44 479.54,381.27 479.9,381.12 480.26,381.14 480.62,381.25 480.98,381.42 481.34,381.82 481.7,381.95 482.06,382.15 482.42,379.6 482.78,381.53 483.14,381.47 483.5,381.47 483.86,381.6 484.22,382 484.58,381.67 484.94,381.73 485.3,381.53 485.66,381.1 486.02,381.22 486.38,381.36 486.74,381.74 487.1,381.91 487.46,380.73 487.82,375.07 488.18,354.21 488.54,312.9 488.9,278.62 489,276.46 489.26,289.48 489.62,332.52 489.98,365.65 490.34,377.98 490.7,380.15 491.06,379.77 491.42,378.42 491.78,374.43 492.14,369.71 492.4,367.55 492.5,367.15 492.86,371.17 493.22,375.4 493.58,377.82 493.94,378.38 494.3,378.55 494.66,377.98 495.02,375.99 495.38,374.99 495.5,375.15 495.74,375.22 496.1,376.93 496.46,377.34 496.82,377.73 497.18,378.29 497.54,378.39 497.9,378.26 498.26,378.46 498.62,378.17 498.98,378.8 499.34,379.28 499.7,379.03 500.06,379.16 500.42,379.24 500.78,379.05 501.14,377.65 501.5,378.5 501.86,378.8 502.22,378.71 502.58,377.54 502.94,379.37 503.3,379.35 503.66,379.24 504.02,378.96 504.38,379.19 504.74,379.44 505.1,379.53 505.46,379.65 505.82,379.64 506.18,379 506.54,378.34 506.9,378.27 507.26,378.95 507.62,379.12 507.98,379.82 508.34,380.1 508.7,379.71 509.06,380.25 509.42,380.29 509.78,380 510.14,379.82 510.5,379.94 510.86,379.55 511.22,379.77 511.58,379.22 511.94,379.48 512.3,379.66 512.66,379.67 513.02,379.86 513.38,380.33 513.74,380.46 514.1,380.17 514.46,379.75 514.82,379.73 515.18,379.76 515.54,379.92 515.9,380.02 516.26,380.23 516.62,380.08 516.98,379.89 517.34,379.53 517.7,379.78 518.06,379.83 518.42,379.43 518.78,380.24 519.14,380.46 519.5,380.24 519.86,380.27 520.22,380.71 520.58,380.89 520.94,380.47 521.3,380.71 521.66,380.28 522.02,379.88 522.38,380.44 522.74,378.88 523.1,380.47 523.46,380.64 523.82,380.52 524.18,380.78 524.54,379.07 524.9,380.66 525.26,380.21 525.62,380.37 525.98,380.32 526.34,380.7 526.7,380.46 527.06,380.61 527.42,381.04 527.78,381.74 528.14,381.99 528.5,381.42 528.86,381.32 529.22,381.38 529.58,380.97 529.94,380.87 530.3,380.28 530.66,380.33 531.02,380.52 531.38,380.29 531.74,380.72 532.1,380.78 532.46,380.27 532.82,380.4 533.18,380.52 533.54,380.97 533.9,379.14 534.26,380.85 534.62,380.43 534.98,380.23 535.34,380.28 535.7,378.28 536.06,380.13 536.42,379.85 536.78,380.42 537.14,380.77 537.5,380.74 537.86,381.17 538.22,380.82 538.58,380.66 538.94,380.98 539.3,381.01 539.66,380.85 540.02,380.01 540.38,379.84 540.74,379.81 541.1,379.93 541.46,379.74 541.82,379.86 542.18,379.85 542.54,380.23 542.9,380.02 543.26,379.93 543.62,379.41 543.98,379.92 544.34,379.94 544.7,380.33 545.06,380.11 545.42,379.92 545.78,379.24 546.14,378.96 546.5,379.47 546.86,379.44 547.22,379.68 547.58,379.35 547.94,380.12 548.3,380.37 548.66,379.95 549.02,380.03 549.38,380.15 549.74,380.29 550.1,380.05 550.46,379.81 550.82,379.81 551.18,380.37 551.54,380.04 551.9,379.27 552.26,378.7 552.62,378.53 552.98,379.52 553.34,379.46 553.7,379.57 554.06,379.18 554.42,379.47 554.78,379.67 555.14,379.52 555.5,378.7 555.86,378.71 556.22,379.62 556.58,379.13 556.94,379.07 557.3,379.17 557.66,379.31 558.02,378.62 558.38,379.66 558.74,379.9 559.1,380.23 559.46,379.32 559.82,379.14 560.18,379.55 560.54,379.52 560.9,378.56 561.26,379.72 561.62,379.64 561.98,379.39 562.34,377.34 562.7,379.53 563.06,379.62 563.42,380.08 563.78,379.44 564.14,379.29 564.5,378.99 564.86,379.51 565.22,378.95 565.58,379.37 565.94,379 566.3,379.2 566.66,377.95 567.02,379.82 567.38,379.28 567.74,379.45 568.1,379.14 568.46,379.35 568.82,379.15 569.18,379.31 569.54,379.65 569.9,379.46 570.26,379.64 570.62,379.31 570.98,379.97 571.34,379.54 571.7,379.43 572.06,378.07 572.42,379.09 572.78,379.47 573.14,379.57 573.5,379.17 573.86,379.48 574.22,378.92 574.58,379.76 574.94,380.08 575.3,379.51 575.66,379.14 576.02,379.29 576.38,379.62 576.74,379.76 577.1,379.81 577.46,379.84 577.82,378.8 578.18,379.25 578.54,379.62 578.9,379.85 579.26,379.94 579.62,379.1 579.98,379.34 580.34,379.39 580.7,379.61 581.06,378.94 581.42,378.73 581.78,379.11 582.14,379.32 582.5,378.97 582.86,379.64 583.22,377.82 583.58,379.23 583.94,379.47 584.3,379.69 584.66,379.95 585.02,379.31 585.38,379.72 585.74,379.73 586.1,380.04 586.46,379.41 586.82,378.64 587.18,379.04 587.54,379.39 587.9,379.56 588.26,379.96 588.62,380.15 588.98,379.93 589.34,378.33 589.7,379.91 590.06,379.66 590.42,379.47 590.78,378.52 591.14,379.75 591.5,379.8 591.86,380 592.22,380.47 592.58,379.66 592.94,378.94 593.3,379.35 593.66,379.52 594.02,379.33 594.38,379.36 594.74,379.58 595.1,379.52 595.46,380.03 595.82,379.71 596.18,379.82 596.34,382.36" fill="none" stroke="#ff00ff" stroke-width="1.3" stroke-linejoin="round"/>
<polygon points="359.91,407.39 359.91,401.99 360.27,402.06 360.63,400.65 360.99,401.11 361.35,401.45 361.71,401.97 362.07,403.6 362.43,402.6 362.79,401.47 363.15,400.63 363.51,398.71 363.87,399.65 364.23,401 364.59,400.81 364.95,401.16 365.31,401.31 365.67,401.34 366.03,401.09 366.39,402.18 366.75,402.14 367.11,402.17 367.47,402.68 367.83,403.18 368.19,402.6 368.55,398.1 368.91,402.12 369.27,402.99 369.63,401.62 369.99,402.65 370.35,402.27 370.71,401.71 371.07,400.99 371.43,401.21 371.79,400.11 372.15,400.89 372.51,401.26 372.87,400.37 373.23,400.01 373.59,400.87 373.95,400.41 374.31,400.56 374.67,400.49 375.03,402.01 375.39,402.09 375.75,401.83 376.11,402.11 376.47,401.72 376.83,401.51 377.19,401.4 377.55,401.08 377.91,402.24 378.27,401.75 378.63,401.29 378.99,400.19 379.35,402.83 379.71,401.49 380.07,403.09 380.43,401.74 380.79,401.56 381.15,400.08 381.51,401.28 381.87,398.39 382.23,401.88 382.59,403.14 382.95,403.76 383.31,403.56 383.67,403.35 384.03,402.12 384.39,402.92 384.75,401.71 385.11,402.17 385.47,399.32 385.83,401.91 386.19,401.01 386.55,400.74 386.91,401.41 387.27,401.04 387.63,400.47 387.99,402.9 388.35,403.29 388.71,403.51 389.07,403.48 389.43,403.19 389.79,400.52 390.15,403.12 390.51,402.24 390.87,402.97 391.23,403.69 391.59,403.45 391.95,402.93 392.31,402.27 392.67,401.69 393.03,402.1 393.39,402.58 393.75,402.31 394.11,402.2 394.47,401.64 394.83,401.11 395.19,401.14 395.55,402.4 395.91,402.93 396.27,402.89 396.63,401.86 396.99,402.12 397.35,403.13 397.71,403.96 398.07,403.65 398.43,404.17 398.79,402.93 399.15,400.71 399.51,401.92 399.87,402.58 400.23,400.02 400.59,402.88 400.95,403.62 401.31,403.14 401.67,403.78 402.03,403.65 402.39,403.91 402.75,403.49 403.11,403.75 403.47,402.74 403.83,401.82 404.19,401.68 404.55,402.23 404.91,404.69 405.27,404.01 405.63,401.35 405.99,401.67 406.35,402.46 406.71,403.02 407.07,404.1 407.43,402.87 407.79,403.56 408.15,402.92 408.51,403.49 408.87,401.43 409.23,400.11 409.59,403.28 409.95,403.02 410.31,402.31 410.67,403.13 411.03,402.29 411.39,403.49 411.75,402.72 412.11,401.55 412.47,401.86 412.83,402.08 413.19,402.76 413.55,402.05 413.91,402.39 414.27,402.92 414.63,401.9 414.99,403.45 415.35,403.39 415.71,402.55 416.07,402.17 416.43,401.94 416.79,401.58 417.15,401.45 417.51,399.97 417.87,401.8 418.23,400.84 418.59,400.42 418.95,401.5 419.31,401.33 419.67,400.56 420.03,400.04 420.39,400.82 420.75,400.7 421.11,401.35 421.47,401.15 421.83,400.58 422.19,400.53 422.55,399.54 422.91,399.38 423.27,399.93 423.63,400.67 423.99,400.68 424.35,400.48 424.71,400.39 425.07,400.25 425.43,399.87 425.79,399.53 426.15,399.12 426.51,400.59 426.87,400.34 427.23,400.38 427.59,401.06 427.95,400.36 428.31,399.92 428.67,400.65 429.03,399.04 429.39,399.03 429.75,400.05 430.11,400.7 430.47,400.58 430.83,400.97 431.19,401.56 431.55,399.65 431.91,401.01 432.27,400.33 432.63,399.7 432.99,400.25 433.35,399.63 433.71,401.36 434.07,400.71 434.43,401.46 434.79,401.33 435.15,402.47 435.51,401.84 435.87,401.24 436.23,397.2 436.59,397.13 436.95,400.94 437.31,399.94 437.67,400.18 438.03,400.46 438.39,402.06 438.75,401.52 439.11,402.44 439.47,401.65 439.83,401.41 440.19,402.47 440.55,401.87 440.91,402.95 441.27,401.71 441.63,400.36 441.99,401.03 442.35,401.83 442.71,401.99 443.07,401.91 443.43,400.9 443.79,401.77 444.15,401.6 444.51,401.26 444.87,401.96 445.23,402.9 445.59,402.12 445.95,401.68 446.31,402.92 446.67,403.59 447.03,402.67 447.39,403.28 447.75,402.4 448.11,401.76 448.47,401.93 448.83,401.07 449.19,400.4 449.55,401.21 449.91,401.55 450.27,402.41 450.63,400.81 450.99,401.26 451.35,402.15 451.71,402.92 452.07,402.21 452.43,402.57 452.79,402.94 453.15,403.67 453.51,403.75 453.87,402.28 454.23,402.92 454.59,402.62 454.95,402.16 455.31,397.56 455.67,402.26 456.03,402.16 456.39,401.26 456.75,402.43 457.11,402.79 457.47,403.4 457.83,402.44 458.19,402.51 458.55,402.56 458.91,403.99 459.27,402.68 459.63,403.14 459.99,401.58 460.35,402.08 460.71,400.68 461.07,401.66 461.43,402.63 461.79,403.14 462.15,402.52 462.51,401.67 462.87,401.53 463.23,403.91 463.59,402.74 463.95,402.03 464.31,403.81 464.67,403.77 465.03,403.68 465.39,403.54 465.75,403.46 466.11,404.09 466.47,403.35 466.83,402.66 467.19,401.89 467.55,403.65 467.91,402.1 468.27,402.21 468.63,396.58 468.99,382.4 469.35,346.15 469.71,307.35 469.9,300.49 470.07,306.32 470.43,344.04 470.79,380.45 471.15,395.73 471.51,398.43 471.87,398.41 472.23,394.91 472.59,387.71 472.95,380.07 473.2,377.55 473.31,375.28 473.67,385.53 474.03,393.2 474.39,397.26 474.75,397.65 475.11,396.79 475.47,394.58 475.83,393.56 476,393.96 476.19,394.13 476.55,395.51 476.91,396.85 477.27,397.21 477.63,398.17 477.99,398.48 478.35,396.58 478.71,396.14 479.07,396.31 479.43,396.02 479.79,397.03 480.15,398.24 480.51,397.7 480.87,398.36 481.23,397.32 481.59,398.39 481.95,397.87 482.31,398.06 482.67,398.53 483.03,399.31 483.39,399.65 483.75,399.67 484.11,396.07 484.47,398.72 484.83,397.72 485.19,399.16 485.55,398.99 485.91,397.97 486.27,398.7 486.63,399.12 486.99,398.77 487.35,399.03 487.71,399.02 488.07,399.28 488.43,399.57 488.79,400.19 489.15,399.83 489.51,396.36 489.87,398.98 490.23,399.15 490.59,397.48 490.95,397.35 491.31,398.68 491.67,399.08 492.03,399.93 492.39,399.85 492.75,400.79 493.11,399.82 493.47,398.69 493.83,398.58 494.19,398.83 494.55,398.6 494.91,399.02 495.27,399.43 495.63,399.43 495.99,399.89 496.35,398.63 496.71,399.35 497.07,399.22 497.43,399.65 497.79,400.53 498.15,398.96 498.51,399.88 498.87,400.22 499.23,401.41 499.59,403.08 499.95,402.16 500.31,402.42 500.67,402.72 501.03,402.17 501.39,400.13 501.75,399.48 502.11,399.89 502.47,401.41 502.83,401.68 503.19,401.82 503.55,402.22 503.91,402.56 504.27,401.13 504.63,399.99 504.99,400.08 505.35,400.53 505.71,401.12 506.07,401.64 506.43,397.71 506.79,400.61 507.15,400.94 507.51,401.47 507.87,401.61 508.23,401.81 508.59,401.3 508.95,402.13 509.31,401.29 509.67,401.96 510.03,402.28 510.39,403.06 510.75,403.2 511.11,400.83 511.47,402.3 511.83,402.17 512.19,400.98 512.55,400.39 512.91,400.32 513.27,400.54 513.63,401.81 513.99,401.4 514.35,401.36 514.71,399.43 515.07,400.18 515.43,402.53 515.79,401.58 516.15,401.64 516.51,401.71 516.87,401.74 517.23,401.89 517.59,401.29 517.95,403.01 518.31,401.32 518.67,400.66 519.03,401.56 519.39,402.17 519.75,401.16 520.11,400.85 520.47,399.86 520.83,400.06 521.19,400.09 521.55,400.78 521.91,401.5 522.27,400.98 522.63,401.74 522.99,400.81 523.35,401.54 523.71,401.06 524.07,398.09 524.43,400.18 524.79,399.98 525.15,399.76 525.51,400.82 525.87,401.23 526.23,400.73 526.59,401.51 526.95,401.54 527.31,401.57 527.67,401.58 528.03,401.2 528.39,400.95 528.75,400.55 529.11,400.4 529.47,400.24 529.83,399.43 530.19,399.85 530.55,399.98 530.91,400.76 531.27,401.58 531.63,401.99 531.99,401.53 532.35,400.98 532.71,399.68 533.07,399.4 533.43,396.6 533.79,399.97 534.15,400.42 534.51,397.77 534.87,401.06 535.23,400.91 535.59,402.17 535.95,401.62 536.31,401.18 536.67,401.69 537.03,400.98 537.39,400.23 537.75,400.46 538.11,399.73 538.47,399.17 538.83,400.43 539.19,401.14 539.55,402.48 539.91,402.62 540.27,402.13 540.63,401.25 540.99,400.24 541.35,400.44 541.71,400.57 542.07,401.47 542.43,400.49 542.79,401.27 543.15,402.82 543.51,402.7 543.87,402.51 544.23,400.3 544.59,400.52 544.95,401.19 545.31,402.08 545.67,401.36 546.03,400.53 546.39,400.42 546.75,399.65 547.11,401.31 547.47,401.79 547.83,400.7 548.19,400.76 548.55,400.82 548.91,400.1 549.27,399.94 549.63,400.21 549.99,399.2 550.35,400.02 550.71,399.93 551.07,399.65 551.43,399.78 551.79,399.79 552.15,399.43 552.51,399.22 552.87,397.33 553.23,401.03 553.59,400.83 553.95,401.31 554.31,400.66 554.67,400.43 555.03,400.12 555.39,399.83 555.75,401.01 556.11,401.15 556.47,401.81 556.83,401.8 557.19,401.49 557.55,400.33 557.91,399.38 558.27,399.27 558.63,399.34 558.99,399.89 559.35,399.48 559.71,400.58 560.07,400.06 560.43,400.24 560.79,400.71 561.15,400.71 561.51,399.01 561.87,399.42 562.23,399.98 562.59,400.1 562.95,399.4 563.31,399.05 563.67,399.02 564.03,399.16 564.39,400.51 564.75,401.73 565.11,400.81 565.47,399.42 565.83,399.45 566.19,399.03 566.55,399.17 566.91,400.31 567.27,401.22 567.63,400.17 567.99,400.17 568.35,399.56 568.71,399.98 569.07,400.13 569.43,399.56 569.79,398.54 570.15,398.86 570.51,399.02 570.87,398.77 571.23,398.97 571.59,398.4 571.95,399.82 572.31,399.58 572.67,400.14 573.03,399.91 573.39,400.27 573.75,400.14 574.11,397.79 574.47,399.92 574.83,398.41 575.19,399.04 575.55,399.22 575.91,397.87 576.27,400.7 576.63,397.49 576.99,399.78 577.35,399.55 577.51,407.39" fill="#fff" stroke="none" stroke-width="1" />
<polyline points="359.91,406.39 359.91,401.99 360.27,402.06 360.63,400.65 360.99,401.11 361.35,401.45 361.71,401.97 362.07,403.6 362.43,402.6 362.79,401.47 363.15,400.63 363.51,398.71 363.87,399.65 364.23,401 364.59,400.81 364.95,401.16 365.31,401.31 365.67,401.34 366.03,401.09 366.39,402.18 366.75,402.14 367.11,402.17 367.47,402.68 367.83,403.18 368.19,402.6 368.55,398.1 368.91,402.12 369.27,402.99 369.63,401.62 369.99,402.65 370.35,402.27 370.71,401.71 371.07,400.99 371.43,401.21 371.79,400.11 372.15,400.89 372.51,401.26 372.87,400.37 373.23,400.01 373.59,400.87 373.95,400.41 374.31,400.56 374.67,400.49 375.03,402.01 375.39,402.09 375.75,401.83 376.11,402.11 376.47,401.72 376.83,401.51 377.19,401.4 377.55,401.08 377.91,402.24 378.27,401.75 378.63,401.29 378.99,400.19 379.35,402.83 379.71,401.49 380.07,403.09 380.43,401.74 380.79,401.56 381.15,400.08 381.51,401.28 381.87,398.39 382.23,401.88 382.59,403.14 382.95,403.76 383.31,403.56 383.67,403.35 384.03,402.12 384.39,402.92 384.75,401.71 385.11,402.17 385.47,399.32 385.83,401.91 386.19,401.01 386.55,400.74 386.91,401.41 387.27,401.04 387.63,400.47 387.99,402.9 388.35,403.29 388.71,403.51 389.07,403.48 389.43,403.19 389.79,400.52 390.15,403.12 390.51,402.24 390.87,402.97 391.23,403.69 391.59,403.45 391.95,402.93 392.31,402.27 392.67,401.69 393.03,402.1 393.39,402.58 393.75,402.31 394.11,402.2 394.47,401.64 394.83,401.11 395.19,401.14 395.55,402.4 395.91,402.93 396.27,402.89 396.63,401.86 396.99,402.12 397.35,403.13 397.71,403.96 398.07,403.65 398.43,404.17 398.79,402.93 399.15,400.71 399.51,401.92 399.87,402.58 400.23,400.02 400.59,402.88 400.95,403.62 401.31,403.14 401.67,403.78 402.03,403.65 402.39,403.91 402.75,403.49 403.11,403.75 403.47,402.74 403.83,401.82 404.19,401.68 404.55,402.23 404.91,404.69 405.27,404.01 405.63,401.35 405.99,401.67 406.35,402.46 406.71,403.02 407.07,404.1 407.43,402.87 407.79,403.56 408.15,402.92 408.51,403.49 408.87,401.43 409.23,400.11 409.59,403.28 409.95,403.02 410.31,402.31 410.67,403.13 411.03,402.29 411.39,403.49 411.75,402.72 412.11,401.55 412.47,401.86 412.83,402.08 413.19,402.76 413.55,402.05 413.91,402.39 414.27,402.92 414.63,401.9 414.99,403.45 415.35,403.39 415.71,402.55 416.07,402.17 416.43,401.94 416.79,401.58 417.15,401.45 417.51,399.97 417.87,401.8 418.23,400.84 418.59,400.42 418.95,401.5 419.31,401.33 419.67,400.56 420.03,400.04 420.39,400.82 420.75,400.7 421.11,401.35 421.47,401.15 421.83,400.58 422.19,400.53 422.55,399.54 422.91,399.38 423.27,399.93 423.63,400.67 423.99,400.68 424.35,400.48 424.71,400.39 425.07,400.25 425.43,399.87 425.79,399.53 426.15,399.12 426.51,400.59 426.87,400.34 427.23,400.38 427.59,401.06 427.95,400.36 428.31,399.92 428.67,400.65 429.03,399.04 429.39,399.03 429.75,400.05 430.11,400.7 430.47,400.58 430.83,400.97 431.19,401.56 431.55,399.65 431.91,401.01 432.27,400.33 432.63,399.7 432.99,400.25 433.35,399.63 433.71,401.36 434.07,400.71 434.43,401.46 434.79,401.33 435.15,402.47 435.51,401.84 435.87,401.24 436.23,397.2 436.59,397.13 436.95,400.94 437.31,399.94 437.67,400.18 438.03,400.46 438.39,402.06 438.75,401.52 439.11,402.44 439.47,401.65 439.83,401.41 440.19,402.47 440.55,401.87 440.91,402.95 441.27,401.71 441.63,400.36 441.99,401.03 442.35,401.83 442.71,401.99 443.07,401.91 443.43,400.9 443.79,401.77 444.15,401.6 444.51,401.26 444.87,401.96 445.23,402.9 445.59,402.12 445.95,401.68 446.31,402.92 446.67,403.59 447.03,402.67 447.39,403.28 447.75,402.4 448.11,401.76 448.47,401.93 448.83,401.07 449.19,400.4 449.55,401.21 449.91,401.55 450.27,402.41 450.63,400.81 450.99,401.26 451.35,402.15 451.71,402.92 452.07,402.21 452.43,402.57 452.79,402.94 453.15,403.67 453.51,403.75 453.87,402.28 454.23,402.92 454.59,402.62 454.95,402.16 455.31,397.56 455.67,402.26 456.03,402.16 456.39,401.26 456.75,402.43 457.11,402.79 457.47,403.4 457.83,402.44 458.19,402.51 458.55,402.56 458.91,403.99 459.27,402.68 459.63,403.14 459.99,401.58 460.35,402.08 460.71,400.68 461.07,401.66 461.43,402.63 461.79,403.14 462.15,402.52 462.51,401.67 462.87,401.53 463.23,403.91 463.59,402.74 463.95,402.03 464.31,403.81 464.67,403.77 465.03,403.68 465.39,403.54 465.75,403.46 466.11,404.09 466.47,403.35 466.83,402.66 467.19,401.89 467.55,403.65 467.91,402.1 468.27,402.21 468.63,396.58 468.99,382.4 469.35,346.15 469.71,307.35 469.9,300.49 470.07,306.32 470.43,344.04 470.79,380.45 471.15,395.73 471.51,398.43 471.87,398.41 472.23,394.91 472.59,387.71 472.95,380.07 473.2,377.55 473.31,375.28 473.67,385.53 474.03,393.2 474.39,397.26 474.75,397.65 475.11,396.79 475.47,394.58 475.83,393.56 476,393.96 476.19,394.13 476.55,395.51 476.91,396.85 477.27,397.21 477.63,398.17 477.99,398.48 478.35,396.58 478.71,396.14 479.07,396.31 479.43,396.02 479.79,397.03 480.15,398.24 480.51,397.7 480.87,398.36 481.23,397.32 481.59,398.39 481.95,397.87 482.31,398.06 482.67,398.53 483.03,399.31 483.39,399.65 483.75,399.67 484.11,396.07 484.47,398.72 484.83,397.72 485.19,399.16 485.55,398.99 485.91,397.97 486.27,398.7 486.63,399.12 486.99,398.77 487.35,399.03 487.71,399.02 488.07,399.28 488.43,399.57 488.79,400.19 489.15,399.83 489.51,396.36 489.87,398.98 490.23,399.15 490.59,397.48 490.95,397.35 491.31,398.68 491.67,399.08 492.03,399.93 492.39,399.85 492.75,400.79 493.11,399.82 493.47,398.69 493.83,398.58 494.19,398.83 494.55,398.6 494.91,399.02 495.27,399.43 495.63,399.43 495.99,399.89 496.35,398.63 496.71,399.35 497.07,399.22 497.43,399.65 497.79,400.53 498.15,398.96 498.51,399.88 498.87,400.22 499.23,401.41 499.59,403.08 499.95,402.16 500.31,402.42 500.67,402.72 501.03,402.17 501.39,400.13 501.75,399.48 502.11,399.89 502.47,401.41 502.83,401.68 503.19,401.82 503.55,402.22 503.91,402.56 504.27,401.13 504.63,399.99 504.99,400.08 505.35,400.53 505.71,401.12 506.07,401.64 506.43,397.71 506.79,400.61 507.15,400.94 507.51,401.47 507.87,401.61 508.23,401.81 508.59,401.3 508.95,402.13 509.31,401.29 509.67,401.96 510.03,402.28 510.39,403.06 510.75,403.2 511.11,400.83 511.47,402.3 511.83,402.17 512.19,400.98 512.55,400.39 512.91,400.32 513.27,400.54 513.63,401.81 513.99,401.4 514.35,401.36 514.71,399.43 515.07,400.18 515.43,402.53 515.79,401.58 516.15,401.64 516.51,401.71 516.87,401.74 517.23,401.89 517.59,401.29 517.95,403.01 518.31,401.32 518.67,400.66 519.03,401.56 519.39,402.17 519.75,401.16 520.11,400.85 520.47,399.86 520.83,400.06 521.19,400.09 521.55,400.78 521.91,401.5 522.27,400.98 522.63,401.74 522.99,400.81 523.35,401.54 523.71,401.06 524.07,398.09 524.43,400.18 524.79,399.98 525.15,399.76 525.51,400.82 525.87,401.23 526.23,400.73 526.59,401.51 526.95,401.54 527.31,401.57 527.67,401.58 528.03,401.2 528.39,400.95 528.75,400.55 529.11,400.4 529.47,400.24 529.83,399.43 530.19,399.85 530.55,399.98 530.91,400.76 531.27,401.58 531.63,401.99 531.99,401.53 532.35,400.98 532.71,399.68 533.07,399.4 533.43,396.6 533.79,399.97 534.15,400.42 534.51,397.77 534.87,401.06 535.23,400.91 535.59,402.17 535.95,401.62 536.31,401.18 536.67,401.69 537.03,400.98 537.39,400.23 537.75,400.46 538.11,399.73 538.47,399.17 538.83,400.43 539.19,401.14 539.55,402.48 539.91,402.62 540.27,402.13 540.63,401.25 540.99,400.24 541.35,400.44 541.71,400.57 542.07,401.47 542.43,400.49 542.79,401.27 543.15,402.82 543.51,402.7 543.87,402.51 544.23,400.3 544.59,400.52 544.95,401.19 545.31,402.08 545.67,401.36 546.03,400.53 546.39,400.42 546.75,399.65 547.11,401.31 547.47,401.79 547.83,400.7 548.19,400.76 548.55,400.82 548.91,400.1 549.27,399.94 549.63,400.21 549.99,399.2 550.35,400.02 550.71,399.93 551.07,399.65 551.43,399.78 551.79,399.79 552.15,399.43 552.51,399.22 552.87,397.33 553.23,401.03 553.59,400.83 553.95,401.31 554.31,400.66 554.67,400.43 555.03,400.12 555.39,399.83 555.75,401.01 556.11,401.15 556.47,401.81 556.83,401.8 557.19,401.49 557.55,400.33 557.91,399.38 558.27,399.27 558.63,399.34 558.99,399.89 559.35,399.48 559.71,400.58 560.07,400.06 560.43,400.24 560.79,400.71 561.15,400.71 561.51,399.01 561.87,399.42 562.23,399.98 562.59,400.1 562.95,399.4 563.31,399.05 563.67,399.02 564.03,399.16 564.39,400.51 564.75,401.73 565.11,400.81 565.47,399.42 565.83,399.45 566.19,399.03 566.55,399.17 566.91,400.31 567.27,401.22 567.63,400.17 567.99,400.17 568.35,399.56 568.71,399.98 569.07,400.13 569.43,399.56 569.79,398.54 570.15,398.86 570.51,399.02 570.87,398.77 571.23,398.97 571.59,398.4 571.95,399.82 572.31,399.58 572.67,400.14 573.03,399.91 573.39,400.27 573.75,400.14 574.11,397.79 574.47,399.92 574.83,398.41 575.19,399.04 575.55,399.22 575.91,397.87 576.27,400.7 576.63,397.49 576.99,399.78 577.35,399.55 577.51,406.39" fill="none" stroke="#0a9010" stroke-width="1.3" stroke-linejoin="round"/>
<rect x="597.5" y="224.6" width="37.8" height="34.6" fill="#c0c0c0"/>
<rect x="596.3" y="223.4" width="37.6" height="34.2" fill="#fff" stroke="#333" stroke-width="0.9"/>
<line x1="597.3" y1="228.4" x2="612.5" y2="228.4" stroke="#000" stroke-width="1.3" />
<text x="614.6" y="230.9" font-size="7.2" fill="#000" stroke="#000" stroke-width="0.15" transform="translate(614.6,0) scale(0.87,1) translate(-614.6,0)">19524</text>
<line x1="597.3" y1="236.7" x2="612.5" y2="236.7" stroke="#00ffff" stroke-width="1.3" />
<text x="614.6" y="239.2" font-size="7.2" fill="#000" stroke="#000" stroke-width="0.15" transform="translate(614.6,0) scale(0.87,1) translate(-614.6,0)">19522</text>
<line x1="597.3" y1="245" x2="612.5" y2="245" stroke="#ff00ff" stroke-width="1.3" />
<text x="614.6" y="247.5" font-size="7.2" fill="#000" stroke="#000" stroke-width="0.15" transform="translate(614.6,0) scale(0.87,1) translate(-614.6,0)">19527</text>
<line x1="597.3" y1="253.3" x2="612.5" y2="253.3" stroke="#13a013" stroke-width="1.3" />
<text x="614.6" y="255.8" font-size="7.2" fill="#000" stroke="#000" stroke-width="0.15" transform="translate(614.6,0) scale(0.87,1) translate(-614.6,0)">19527</text>
</svg>
</body></html>
